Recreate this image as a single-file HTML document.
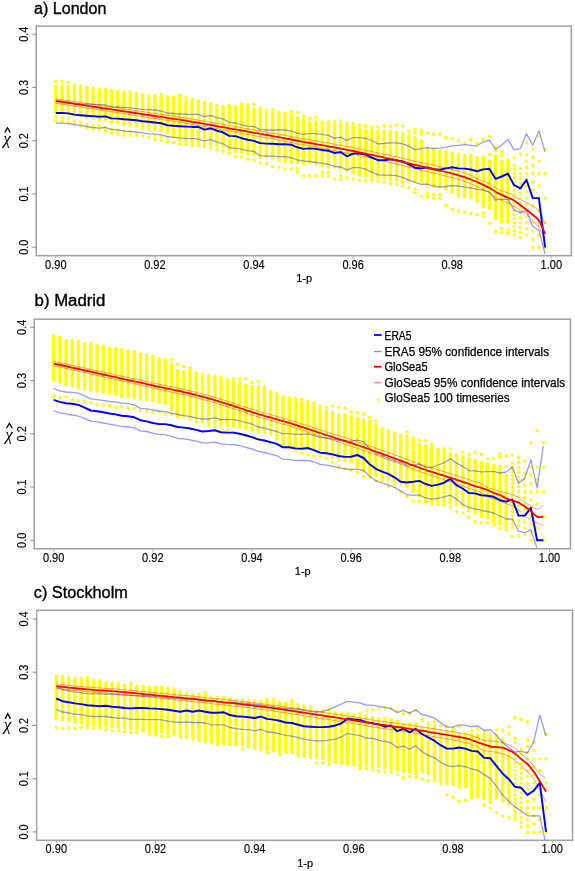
<!DOCTYPE html>
<html><head><meta charset="utf-8"><style>
html,body{margin:0;padding:0;background:#fff;}
svg{display:block;will-change:transform;}
text{font-family:"Liberation Sans",sans-serif;fill:#000;}
.tk{font-size:12px;stroke:#000;stroke-width:0.15px;}
.xl{font-size:11px;stroke:#000;stroke-width:0.2px;}
.ttl{font-size:16px;stroke:#000;stroke-width:0.35px;}
.lg{font-size:11.9px;stroke:#000;stroke-width:0.25px;}
.chi{font-size:17.3px;font-family:"Liberation Serif",serif;font-style:italic;}
</style></head><body>
<svg width="575" height="871" viewBox="0 0 575 871">
<rect width="575" height="871" fill="#fff"/>
<clipPath id="clipa"><rect x="36.2" y="26.1" width="535.1" height="229.6"/></clipPath>
<g fill="#ffff00" clip-path="url(#clipa)"><rect x="54.1" y="84.2" width="3.4" height="29.1" rx="1.7"/><rect x="60.3" y="84.2" width="3.4" height="30.3" rx="1.7"/><rect x="66.5" y="84.2" width="3.4" height="31.4" rx="1.7"/><rect x="72.7" y="83" width="3.4" height="33.7" rx="1.7"/><rect x="78.9" y="84.2" width="3.4" height="33.7" rx="1.7"/><rect x="85.1" y="85.3" width="3.4" height="33.7" rx="1.7"/><rect x="91.3" y="86.4" width="3.4" height="33.7" rx="1.7"/><rect x="97.5" y="87.6" width="3.4" height="33.7" rx="1.7"/><rect x="103.6" y="87.6" width="3.4" height="33.7" rx="1.7"/><rect x="109.8" y="88.7" width="3.4" height="34.8" rx="1.7"/><rect x="116" y="89.8" width="3.4" height="34.8" rx="1.7"/><rect x="122.2" y="90.3" width="3.4" height="35.5" rx="1.7"/><rect x="128.4" y="90.3" width="3.4" height="36.6" rx="1.7"/><rect x="134.6" y="91.6" width="3.4" height="36.4" rx="1.7"/><rect x="140.8" y="92.5" width="3.4" height="37.7" rx="1.7"/><rect x="147" y="94.3" width="3.4" height="37" rx="1.7"/><rect x="153.2" y="93.9" width="3.4" height="37.5" rx="1.7"/><rect x="159.4" y="95.5" width="3.4" height="37" rx="1.7"/><rect x="165.6" y="94.8" width="3.4" height="38.9" rx="1.7"/><rect x="171.8" y="95.3" width="3.4" height="43" rx="1.7"/><rect x="178" y="95.8" width="3.4" height="46.1" rx="1.7"/><rect x="184.2" y="99.2" width="3.4" height="43.8" rx="1.7"/><rect x="190.4" y="98" width="3.4" height="46.1" rx="1.7"/><rect x="196.6" y="99.2" width="3.4" height="45" rx="1.7"/><rect x="202.8" y="100.3" width="3.4" height="45" rx="1.7"/><rect x="208.9" y="102.1" width="3.4" height="44.3" rx="1.7"/><rect x="215.1" y="103.7" width="3.4" height="43.8" rx="1.7"/><rect x="221.3" y="104.8" width="3.4" height="43.8" rx="1.7"/><rect x="227.5" y="103.7" width="3.4" height="47.2" rx="1.7"/><rect x="233.7" y="104.8" width="3.4" height="48.3" rx="1.7"/><rect x="239.9" y="104.8" width="3.4" height="49.5" rx="1.7"/><rect x="246.1" y="106" width="3.4" height="49.5" rx="1.7"/><rect x="252.3" y="107.1" width="3.4" height="49.5" rx="1.7"/><rect x="258.5" y="106.6" width="3.4" height="52.2" rx="1.7"/><rect x="264.7" y="108.2" width="3.4" height="50.6" rx="1.7"/><rect x="270.9" y="110.5" width="3.4" height="49.5" rx="1.7"/><rect x="277.1" y="110.5" width="3.4" height="51.7" rx="1.7"/><rect x="283.3" y="111.6" width="3.4" height="51.7" rx="1.7"/><rect x="289.5" y="112.7" width="3.4" height="51" rx="1.7"/><rect x="295.7" y="116" width="3.4" height="48.2" rx="1.7"/><rect x="301.8" y="118" width="3.4" height="47.2" rx="1.7"/><rect x="308" y="120.3" width="3.4" height="43.8" rx="1.7"/><rect x="314.2" y="120.3" width="3.4" height="45" rx="1.7"/><rect x="320.4" y="120.3" width="3.4" height="47.2" rx="1.7"/><rect x="326.6" y="122.6" width="3.4" height="46.1" rx="1.7"/><rect x="332.8" y="122.6" width="3.4" height="46.1" rx="1.7"/><rect x="339" y="122.6" width="3.4" height="48.3" rx="1.7"/><rect x="345.2" y="124.8" width="3.4" height="47.2" rx="1.7"/><rect x="351.4" y="124.4" width="3.4" height="49.9" rx="1.7"/><rect x="357.6" y="126" width="3.4" height="50.6" rx="1.7"/><rect x="363.8" y="128.2" width="3.4" height="48.8" rx="1.7"/><rect x="370" y="128.2" width="3.4" height="50.6" rx="1.7"/><rect x="376.2" y="129.3" width="3.4" height="49.5" rx="1.7"/><rect x="382.4" y="129.3" width="3.4" height="50.6" rx="1.7"/><rect x="388.6" y="129.3" width="3.4" height="51.7" rx="1.7"/><rect x="394.8" y="130.5" width="3.4" height="51.7" rx="1.7"/><rect x="400.9" y="131.6" width="3.4" height="52.5" rx="1.7"/><rect x="407.1" y="133.9" width="3.4" height="49.1" rx="1.7"/><rect x="413.3" y="136.1" width="3.4" height="46.9" rx="1.7"/><rect x="419.5" y="138.5" width="3.4" height="46.2" rx="1.7"/><rect x="425.7" y="146.6" width="3.4" height="40.6" rx="1.7"/><rect x="431.9" y="146.6" width="3.4" height="41.7" rx="1.7"/><rect x="438.1" y="148.9" width="3.4" height="39.4" rx="1.7"/><rect x="444.3" y="150" width="3.4" height="40.6" rx="1.7"/><rect x="450.5" y="151.1" width="3.4" height="42.8" rx="1.7"/><rect x="456.7" y="152.3" width="3.4" height="45.1" rx="1.7"/><rect x="462.9" y="153.4" width="3.4" height="45.1" rx="1.7"/><rect x="469.1" y="153.4" width="3.4" height="46.2" rx="1.7"/><rect x="475.3" y="155.7" width="3.4" height="47.3" rx="1.7"/><rect x="481.5" y="155.1" width="3.4" height="53.4" rx="1.7"/><rect x="487.7" y="158.9" width="3.4" height="50.8" rx="1.7"/><rect x="493.9" y="154" width="3.4" height="66.2" rx="1.7"/><rect x="500" y="159.8" width="3.4" height="64.1" rx="1.7"/><rect x="506.2" y="158.3" width="3.4" height="65.6" rx="1.7"/><circle cx="55.8" cy="81.3" r="1.7"/><circle cx="55.8" cy="120.2" r="1.7"/><circle cx="55.8" cy="116.6" r="1.7"/><circle cx="62" cy="81.3" r="1.7"/><circle cx="62" cy="121.3" r="1.7"/><circle cx="62" cy="117.7" r="1.7"/><circle cx="68.2" cy="82.2" r="1.7"/><circle cx="68.2" cy="122.5" r="1.7"/><circle cx="68.2" cy="118.9" r="1.7"/><circle cx="74.4" cy="124.7" r="1.7"/><circle cx="74.4" cy="121.1" r="1.7"/><circle cx="80.6" cy="125.9" r="1.7"/><circle cx="80.6" cy="122.3" r="1.7"/><circle cx="86.8" cy="128.1" r="1.7"/><circle cx="86.8" cy="124.5" r="1.7"/><circle cx="93" cy="129.3" r="1.7"/><circle cx="93" cy="125.7" r="1.7"/><circle cx="99.2" cy="129.3" r="1.7"/><circle cx="99.2" cy="125.7" r="1.7"/><circle cx="105.3" cy="131.1" r="1.7"/><circle cx="105.3" cy="127.5" r="1.7"/><circle cx="111.5" cy="132.7" r="1.7"/><circle cx="111.5" cy="129.1" r="1.7"/><circle cx="117.7" cy="133.8" r="1.7"/><circle cx="117.7" cy="130.2" r="1.7"/><circle cx="123.9" cy="134.9" r="1.7"/><circle cx="123.9" cy="131.3" r="1.7"/><circle cx="130.1" cy="134.9" r="1.7"/><circle cx="130.1" cy="131.3" r="1.7"/><circle cx="136.3" cy="135.6" r="1.7"/><circle cx="136.3" cy="132" r="1.7"/><circle cx="142.5" cy="136" r="1.7"/><circle cx="148.7" cy="137.2" r="1.7"/><circle cx="154.9" cy="139.4" r="1.7"/><circle cx="154.9" cy="135.8" r="1.7"/><circle cx="161.1" cy="94.2" r="1.7"/><circle cx="161.1" cy="140.6" r="1.7"/><circle cx="161.1" cy="137" r="1.7"/><circle cx="167.3" cy="141.7" r="1.7"/><circle cx="167.3" cy="138.1" r="1.7"/><circle cx="173.5" cy="142.2" r="1.7"/><circle cx="179.7" cy="95" r="1.7"/><circle cx="179.7" cy="144.3" r="1.7"/><circle cx="185.9" cy="97.2" r="1.7"/><circle cx="185.9" cy="144.3" r="1.7"/><circle cx="192.1" cy="145.4" r="1.7"/><circle cx="198.3" cy="145.4" r="1.7"/><circle cx="204.4" cy="146.5" r="1.7"/><circle cx="210.6" cy="147.7" r="1.7"/><circle cx="216.8" cy="149.9" r="1.7"/><circle cx="223" cy="151" r="1.7"/><circle cx="229.2" cy="153.3" r="1.7"/><circle cx="235.4" cy="156.7" r="1.7"/><circle cx="241.6" cy="104" r="1.7"/><circle cx="241.6" cy="156.7" r="1.7"/><circle cx="247.8" cy="104.7" r="1.7"/><circle cx="247.8" cy="159" r="1.7"/><circle cx="254" cy="104" r="1.7"/><circle cx="254" cy="160.1" r="1.7"/><circle cx="260.2" cy="162.8" r="1.7"/><circle cx="266.4" cy="163.5" r="1.7"/><circle cx="272.6" cy="109.2" r="1.7"/><circle cx="272.6" cy="166.4" r="1.7"/><circle cx="278.8" cy="166.9" r="1.7"/><circle cx="285" cy="169.1" r="1.7"/><circle cx="291.2" cy="111.5" r="1.7"/><circle cx="291.2" cy="169.1" r="1.7"/><circle cx="297.4" cy="112.4" r="1.7"/><circle cx="297.4" cy="171.7" r="1.7"/><circle cx="297.4" cy="168.1" r="1.7"/><circle cx="303.5" cy="115.7" r="1.7"/><circle cx="303.5" cy="175.6" r="1.7"/><circle cx="309.7" cy="117.9" r="1.7"/><circle cx="309.7" cy="175.6" r="1.7"/><circle cx="315.9" cy="117.2" r="1.7"/><circle cx="315.9" cy="175.6" r="1.7"/><circle cx="322.1" cy="175.6" r="1.7"/><circle cx="322.1" cy="172" r="1.7"/><circle cx="328.3" cy="121.8" r="1.7"/><circle cx="328.3" cy="176" r="1.7"/><circle cx="328.3" cy="172.4" r="1.7"/><circle cx="334.5" cy="121.3" r="1.7"/><circle cx="334.5" cy="179" r="1.7"/><circle cx="340.7" cy="120.9" r="1.7"/><circle cx="340.7" cy="179" r="1.7"/><circle cx="340.7" cy="175.4" r="1.7"/><circle cx="346.9" cy="123.6" r="1.7"/><circle cx="346.9" cy="177.8" r="1.7"/><circle cx="353.1" cy="123.6" r="1.7"/><circle cx="353.1" cy="179" r="1.7"/><circle cx="359.3" cy="124.7" r="1.7"/><circle cx="359.3" cy="180.1" r="1.7"/><circle cx="365.5" cy="125.8" r="1.7"/><circle cx="365.5" cy="180.1" r="1.7"/><circle cx="371.7" cy="127" r="1.7"/><circle cx="371.7" cy="180.1" r="1.7"/><circle cx="377.9" cy="127" r="1.7"/><circle cx="377.9" cy="181.2" r="1.7"/><circle cx="384.1" cy="125.8" r="1.7"/><circle cx="384.1" cy="182.3" r="1.7"/><circle cx="390.3" cy="126.3" r="1.7"/><circle cx="390.3" cy="183.5" r="1.7"/><circle cx="396.5" cy="124.7" r="1.7"/><circle cx="396.5" cy="184.6" r="1.7"/><circle cx="402.6" cy="125.8" r="1.7"/><circle cx="402.6" cy="186" r="1.7"/><circle cx="408.8" cy="131.5" r="1.7"/><circle cx="408.8" cy="187.7" r="1.7"/><circle cx="415" cy="129.2" r="1.7"/><circle cx="415" cy="132.8" r="1.7"/><circle cx="415" cy="192.5" r="1.7"/><circle cx="415" cy="188.9" r="1.7"/><circle cx="421.2" cy="129.9" r="1.7"/><circle cx="421.2" cy="133.5" r="1.7"/><circle cx="421.2" cy="196.1" r="1.7"/><circle cx="427.4" cy="132.9" r="1.7"/><circle cx="427.4" cy="197" r="1.7"/><circle cx="427.4" cy="193.4" r="1.7"/><circle cx="433.6" cy="134" r="1.7"/><circle cx="433.6" cy="197.9" r="1.7"/><circle cx="433.6" cy="194.3" r="1.7"/><circle cx="439.8" cy="134" r="1.7"/><circle cx="439.8" cy="197.9" r="1.7"/><circle cx="439.8" cy="194.3" r="1.7"/><circle cx="446" cy="137.4" r="1.7"/><circle cx="446" cy="205.4" r="1.7"/><circle cx="452.2" cy="138.6" r="1.7"/><circle cx="452.2" cy="209.2" r="1.7"/><circle cx="458.4" cy="140.8" r="1.7"/><circle cx="458.4" cy="211" r="1.7"/><circle cx="464.6" cy="143.1" r="1.7"/><circle cx="464.6" cy="212.2" r="1.7"/><circle cx="470.8" cy="139.7" r="1.7"/><circle cx="470.8" cy="213.3" r="1.7"/><circle cx="477" cy="143.1" r="1.7"/><circle cx="477" cy="214.4" r="1.7"/><circle cx="483.2" cy="139.2" r="1.7"/><circle cx="483.2" cy="216.4" r="1.7"/><circle cx="483.2" cy="212.8" r="1.7"/><circle cx="489.4" cy="136.5" r="1.7"/><circle cx="489.4" cy="223.1" r="1.7"/><circle cx="489.4" cy="154.1" r="1.7"/><circle cx="495.6" cy="147.1" r="1.7"/><circle cx="495.6" cy="150.7" r="1.7"/><circle cx="495.6" cy="231.2" r="1.7"/><circle cx="501.7" cy="151.9" r="1.7"/><circle cx="501.7" cy="155.5" r="1.7"/><circle cx="501.7" cy="232.1" r="1.7"/><circle cx="501.7" cy="228.5" r="1.7"/><circle cx="507.9" cy="233.2" r="1.7"/><circle cx="507.9" cy="229.6" r="1.7"/><circle cx="514.1" cy="234.9" r="1.7"/><circle cx="514.1" cy="230.8" r="1.7"/><circle cx="514.1" cy="226.7" r="1.7"/><circle cx="514.1" cy="222.6" r="1.7"/><circle cx="514.1" cy="218.5" r="1.7"/><circle cx="514.1" cy="214.4" r="1.7"/><circle cx="514.1" cy="210.3" r="1.7"/><circle cx="514.1" cy="206.2" r="1.7"/><circle cx="514.1" cy="202.1" r="1.7"/><circle cx="514.1" cy="198" r="1.7"/><circle cx="514.1" cy="193.9" r="1.7"/><circle cx="514.1" cy="189.8" r="1.7"/><circle cx="514.1" cy="185.7" r="1.7"/><circle cx="514.1" cy="181.6" r="1.7"/><circle cx="514.1" cy="177.5" r="1.7"/><circle cx="514.1" cy="173.4" r="1.7"/><circle cx="514.1" cy="169.3" r="1.7"/><circle cx="514.1" cy="165.2" r="1.7"/><circle cx="514.1" cy="157" r="1.7"/><circle cx="520.3" cy="237.4" r="1.7"/><circle cx="520.3" cy="232.4" r="1.7"/><circle cx="520.3" cy="227.5" r="1.7"/><circle cx="520.3" cy="222.6" r="1.7"/><circle cx="520.3" cy="217.7" r="1.7"/><circle cx="520.3" cy="212.8" r="1.7"/><circle cx="520.3" cy="207.8" r="1.7"/><circle cx="520.3" cy="202.9" r="1.7"/><circle cx="520.3" cy="198" r="1.7"/><circle cx="520.3" cy="193.1" r="1.7"/><circle cx="520.3" cy="188.2" r="1.7"/><circle cx="520.3" cy="183.2" r="1.7"/><circle cx="520.3" cy="178.3" r="1.7"/><circle cx="520.3" cy="173.4" r="1.7"/><circle cx="520.3" cy="168.5" r="1.7"/><circle cx="520.3" cy="153.7" r="1.7"/><circle cx="526.5" cy="234.9" r="1.7"/><circle cx="526.5" cy="228.8" r="1.7"/><circle cx="526.5" cy="222.6" r="1.7"/><circle cx="526.5" cy="216.4" r="1.7"/><circle cx="526.5" cy="210.3" r="1.7"/><circle cx="526.5" cy="204.1" r="1.7"/><circle cx="526.5" cy="198" r="1.7"/><circle cx="526.5" cy="191.8" r="1.7"/><circle cx="526.5" cy="185.7" r="1.7"/><circle cx="526.5" cy="179.5" r="1.7"/><circle cx="526.5" cy="173.4" r="1.7"/><circle cx="526.5" cy="167.2" r="1.7"/><circle cx="526.5" cy="161.1" r="1.7"/><circle cx="526.5" cy="154.9" r="1.7"/><circle cx="526.5" cy="142.6" r="1.7"/><circle cx="532.7" cy="247.2" r="1.7"/><circle cx="532.7" cy="239" r="1.7"/><circle cx="532.7" cy="230.8" r="1.7"/><circle cx="532.7" cy="222.6" r="1.7"/><circle cx="532.7" cy="214.4" r="1.7"/><circle cx="532.7" cy="206.2" r="1.7"/><circle cx="532.7" cy="198" r="1.7"/><circle cx="532.7" cy="189.8" r="1.7"/><circle cx="532.7" cy="181.6" r="1.7"/><circle cx="532.7" cy="173.4" r="1.7"/><circle cx="532.7" cy="165.2" r="1.7"/><circle cx="532.7" cy="157" r="1.7"/><circle cx="532.7" cy="148.8" r="1.7"/><circle cx="538.9" cy="247.2" r="1.7"/><circle cx="538.9" cy="234.9" r="1.7"/><circle cx="538.9" cy="222.6" r="1.7"/><circle cx="538.9" cy="210.3" r="1.7"/><circle cx="538.9" cy="198" r="1.7"/><circle cx="538.9" cy="185.7" r="1.7"/><circle cx="538.9" cy="173.4" r="1.7"/><circle cx="538.9" cy="161.1" r="1.7"/><circle cx="538.9" cy="136.5" r="1.7"/><circle cx="545.1" cy="247.2" r="1.7"/><circle cx="545.1" cy="222.6" r="1.7"/><circle cx="545.1" cy="198" r="1.7"/><circle cx="545.1" cy="173.4" r="1.7"/><circle cx="545.1" cy="148.8" r="1.7"/></g>
<g fill="none" stroke-linejoin="round" clip-path="url(#clipa)"><polyline points="55.8,100.5 62,101.4 68.2,102.2 74.4,103.1 80.6,103.9 86.8,104.2 93,104.4 99.2,104.6 105.3,104.8 111.5,106.7 117.7,107 123.9,107.4 130.1,107.8 136.3,108.6 142.5,109.4 148.7,109.7 154.9,110 161.1,111.2 167.3,113 173.5,113.5 179.7,114 185.9,114.4 192.1,114.4 198.3,114.4 204.4,116.7 210.6,115.3 216.8,117.6 223,118.9 229.2,122.3 235.4,123 241.6,125 247.8,126.2 254,126.6 260.2,129.6 266.4,130 272.6,130 278.8,130 285,130 291.2,131.1 297.4,133.1 303.5,134.4 309.7,133.7 315.9,133.7 322.1,134.4 328.3,135.3 334.5,138.3 340.7,137.1 346.9,140.5 353.1,137.6 359.3,137.6 365.5,138.3 371.7,140.5 377.9,143.9 384.1,143.5 390.3,142.8 396.5,142.8 402.6,143.9 408.8,146.2 415,149.6 421.2,148.6 427.4,147.6 433.6,148.7 439.8,148.1 446,147.2 452.2,145.8 458.4,145.3 464.6,144.7 470.8,145.3 477,145.8 483.2,141.8 489.4,140.1 495.6,149.5 501.7,144.9 507.9,139.6 514.1,149.7 520.3,148.7 526.5,133.6 532.7,145.2 538.9,130.8 545.1,152.1" stroke="rgba(0,0,255,0.4)" stroke-width="1.3"/><polyline points="55.8,123.2 62,123.2 68.2,123.6 74.4,124.7 80.6,125.4 86.8,126.5 93,127.5 99.2,128.1 105.3,127.5 111.5,129.3 117.7,129.9 123.9,130.8 130.1,131.5 136.3,132.2 142.5,132.9 148.7,133.8 154.9,134.2 161.1,134.9 167.3,136.5 173.5,137.3 179.7,137.9 185.9,138.4 192.1,138.6 198.3,139.1 204.4,140.9 210.6,139.7 216.8,142 223,143.8 229.2,147.7 235.4,148.3 241.6,149.2 247.8,150.6 254,151.5 260.2,155.6 266.4,156 272.6,156.2 278.8,156.7 285,156.7 291.2,157.8 297.4,160 303.5,160.9 309.7,161.5 315.9,162.5 322.1,163.1 328.3,164.3 334.5,166.5 340.7,167 346.9,169.9 353.1,167.7 359.3,167.7 365.5,169.2 371.7,172.2 377.9,174.9 384.1,175.1 390.3,175.1 396.5,175.6 402.6,177.4 408.8,180.1 415,182.3 421.2,184.5 427.4,184.2 433.6,186 439.8,187.2 446,186.5 452.2,185.6 458.4,186 464.6,187.2 470.8,187.9 477,189.4 483.2,190.2 489.4,192.1 495.6,200 501.7,199.2 507.9,199.4 514.1,210.1 520.3,212.6 526.5,210.5 532.7,226.5 538.9,230.2 545.1,254.1" stroke="rgba(0,0,255,0.4)" stroke-width="1.3"/><path d="M55.8 98.8 C56.8 98.9 59.9 99.4 62 99.7 C64.1 100 66.1 100.3 68.2 100.6 C70.3 100.9 72.3 101.2 74.4 101.5 C76.4 101.8 78.5 102.1 80.6 102.4 C82.6 102.8 84.7 103.1 86.8 103.4 C88.8 103.7 90.9 104 93 104.3 C95 104.6 97.1 104.9 99.2 105.2 C101.2 105.5 103.3 105.8 105.3 106.1 C107.4 106.4 109.5 106.7 111.5 107 C113.6 107.3 115.7 107.6 117.7 107.9 C119.8 108.2 121.9 108.6 123.9 108.9 C126 109.2 128.1 109.5 130.1 109.8 C132.2 110.1 134.3 110.4 136.3 110.7 C138.4 111 140.4 111.3 142.5 111.6 C144.6 111.9 146.6 112.2 148.7 112.5 C150.8 112.8 152.8 113.1 154.9 113.4 C157 113.7 159 114 161.1 114.3 C163.2 114.6 165.2 114.9 167.3 115.2 C169.4 115.5 171.4 115.8 173.5 116.1 C175.5 116.5 177.6 116.8 179.7 117.1 C181.7 117.4 183.8 117.7 185.9 118.1 C187.9 118.4 190 118.7 192.1 119.1 C194.1 119.4 196.2 119.8 198.3 120.1 C200.3 120.5 202.4 120.8 204.4 121.2 C206.5 121.6 208.6 121.9 210.6 122.3 C212.7 122.6 214.8 123 216.8 123.4 C218.9 123.7 221 124.1 223 124.4 C225.1 124.8 227.2 125.2 229.2 125.5 C231.3 125.9 233.4 126.2 235.4 126.6 C237.5 127 239.5 127.3 241.6 127.7 C243.7 128 245.7 128.4 247.8 128.8 C249.9 129.1 251.9 129.5 254 129.9 C256.1 130.2 258.1 130.6 260.2 130.9 C262.3 131.3 264.3 131.7 266.4 132 C268.5 132.4 270.5 132.8 272.6 133.1 C274.6 133.5 276.7 133.9 278.8 134.2 C280.8 134.6 282.9 135 285 135.4 C287 135.7 289.1 136.1 291.2 136.5 C293.2 136.9 295.3 137.3 297.4 137.6 C299.4 138 301.5 138.4 303.5 138.8 C305.6 139.1 307.7 139.5 309.7 139.9 C311.8 140.2 313.9 140.6 315.9 140.9 C318 141.3 320.1 141.7 322.1 142 C324.2 142.4 326.3 142.7 328.3 143.1 C330.4 143.5 332.5 143.8 334.5 144.2 C336.6 144.6 338.6 145 340.7 145.4 C342.8 145.7 344.8 146.1 346.9 146.5 C349 146.9 351 147.3 353.1 147.7 C355.2 148.2 357.2 148.6 359.3 149 C361.4 149.4 363.4 149.8 365.5 150.2 C367.6 150.6 369.6 151.1 371.7 151.5 C373.7 151.9 375.8 152.3 377.9 152.8 C379.9 153.2 382 153.6 384.1 154.1 C386.1 154.5 388.2 155 390.3 155.5 C392.3 155.9 394.4 156.4 396.5 156.9 C398.5 157.3 400.6 157.8 402.6 158.3 C404.7 158.8 406.8 159.3 408.8 159.8 C410.9 160.3 413 160.8 415 161.2 C417.1 161.7 419.2 162.2 421.2 162.6 C423.3 163.1 425.4 163.5 427.4 164 C429.5 164.4 431.6 164.8 433.6 165.3 C435.7 165.7 437.7 166.1 439.8 166.6 C441.9 167 443.9 167.5 446 168 C448.1 168.5 450.1 169 452.2 169.5 C454.3 170 456.3 170.6 458.4 171.1 C460.5 171.7 462.5 172.2 464.6 172.9 C466.7 173.6 468.7 174.3 470.8 175.2 C472.8 176.1 474.9 177.5 477 178.4 C479 179.4 481.1 180.1 483.2 181 C485.2 181.8 487.3 182.4 489.4 183.5 C491.4 184.6 493.5 186.5 495.6 187.7 C497.6 188.9 499.7 189.8 501.7 190.7 C503.8 191.5 505.9 192 507.9 192.9 C510 193.8 512.1 194.8 514.1 195.9 C516.2 197 518.3 198.5 520.3 199.6 C522.4 200.7 524.5 201.5 526.5 202.6 C528.6 203.7 530.7 204.8 532.7 206.1 C534.8 207.4 536.8 207.4 538.9 210.4 C541 213.4 544.1 222 545.1 224.3" stroke="rgba(255,0,0,0.4)" stroke-width="1"/><path d="M55.8 103.2 C56.8 103.3 59.9 103.8 62 104.1 C64.1 104.5 66.1 104.8 68.2 105.1 C70.3 105.4 72.3 105.7 74.4 106.1 C76.4 106.4 78.5 106.7 80.6 107 C82.6 107.3 84.7 107.7 86.8 108 C88.8 108.3 90.9 108.6 93 108.9 C95 109.3 97.1 109.6 99.2 109.9 C101.2 110.2 103.3 110.5 105.3 110.9 C107.4 111.2 109.5 111.5 111.5 111.8 C113.6 112.1 115.7 112.5 117.7 112.8 C119.8 113.1 121.9 113.4 123.9 113.7 C126 114.1 128.1 114.4 130.1 114.7 C132.2 115 134.3 115.3 136.3 115.6 C138.4 116 140.4 116.3 142.5 116.6 C144.6 116.9 146.6 117.2 148.7 117.6 C150.8 117.9 152.8 118.2 154.9 118.5 C157 118.8 159 119.1 161.1 119.5 C163.2 119.8 165.2 120.1 167.3 120.4 C169.4 120.7 171.4 121 173.5 121.4 C175.5 121.7 177.6 122 179.7 122.3 C181.7 122.7 183.8 123 185.9 123.4 C187.9 123.7 190 124.1 192.1 124.4 C194.1 124.8 196.2 125.2 198.3 125.5 C200.3 125.9 202.4 126.3 204.4 126.6 C206.5 127 208.6 127.4 210.6 127.8 C212.7 128.1 214.8 128.5 216.8 128.9 C218.9 129.3 221 129.6 223 130 C225.1 130.4 227.2 130.8 229.2 131.1 C231.3 131.5 233.4 131.9 235.4 132.3 C237.5 132.6 239.5 133 241.6 133.4 C243.7 133.8 245.7 134.1 247.8 134.5 C249.9 134.9 251.9 135.3 254 135.6 C256.1 136 258.1 136.4 260.2 136.8 C262.3 137.2 264.3 137.5 266.4 137.9 C268.5 138.3 270.5 138.7 272.6 139 C274.6 139.4 276.7 139.8 278.8 140.2 C280.8 140.6 282.9 141 285 141.4 C287 141.8 289.1 142.2 291.2 142.6 C293.2 143 295.3 143.4 297.4 143.8 C299.4 144.2 301.5 144.5 303.5 144.9 C305.6 145.3 307.7 145.7 309.7 146.1 C311.8 146.5 313.9 146.8 315.9 147.2 C318 147.6 320.1 147.9 322.1 148.3 C324.2 148.7 326.3 149.1 328.3 149.5 C330.4 149.8 332.5 150.2 334.5 150.6 C336.6 151 338.6 151.4 340.7 151.8 C342.8 152.2 344.8 152.7 346.9 153.1 C349 153.5 351 153.9 353.1 154.3 C355.2 154.8 357.2 155.2 359.3 155.6 C361.4 156.1 363.4 156.5 365.5 156.9 C367.6 157.4 369.6 157.8 371.7 158.3 C373.7 158.7 375.8 159.2 377.9 159.6 C379.9 160.1 382 160.6 384.1 161 C386.1 161.5 388.2 162 390.3 162.5 C392.3 163 394.4 163.5 396.5 164 C398.5 164.5 400.6 165 402.6 165.5 C404.7 166 406.8 166.6 408.8 167.1 C410.9 167.6 413 168.2 415 168.7 C417.1 169.2 419.2 169.7 421.2 170.2 C423.3 170.7 425.4 171.2 427.4 171.6 C429.5 172.1 431.6 172.6 433.6 173 C435.7 173.5 437.7 174 439.8 174.5 C441.9 174.9 443.9 175.4 446 176 C448.1 176.5 450.1 177 452.2 177.6 C454.3 178.2 456.3 178.8 458.4 179.4 C460.5 180 462.5 180.6 464.6 181.4 C466.7 182.1 468.7 183 470.8 183.8 C472.8 184.7 474.9 185.6 477 186.5 C479 187.4 481.1 188.5 483.2 189.5 C485.2 190.5 487.3 191.1 489.4 192.5 C491.4 193.8 493.5 196.1 495.6 197.4 C497.6 198.7 499.7 199.5 501.7 200.4 C503.8 201.3 505.9 201.9 507.9 202.9 C510 203.9 512.1 205 514.1 206.3 C516.2 207.7 518.3 209.6 520.3 210.8 C522.4 212.1 524.5 212.2 526.5 213.9 C528.6 215.6 530.7 218.7 532.7 220.9 C534.8 223.1 536.8 223.8 538.9 227 C541 230.2 544.1 237.8 545.1 240" stroke="rgba(255,0,0,0.4)" stroke-width="1"/><polyline points="55.8,113 62,113 68.2,113.4 74.4,114.6 80.6,115.2 86.8,115.7 93,116.1 99.2,116.8 105.3,116.4 111.5,118.4 117.7,118.6 123.9,119.3 130.1,119.8 136.3,120.2 142.5,121.3 148.7,121.8 154.9,122.5 161.1,123.2 167.3,125.2 173.5,125.8 179.7,126.2 185.9,126.6 192.1,126.9 198.3,126.9 204.4,129.6 210.6,128.4 216.8,130.7 223,132.3 229.2,135.9 235.4,136.1 241.6,138.2 247.8,139.7 254,140.9 260.2,143.1 266.4,143.6 272.6,143.8 278.8,144.3 285,144.3 291.2,144.7 297.4,147.3 303.5,148.9 309.7,148.4 315.9,148.9 322.1,150 328.3,150.7 334.5,153 340.7,152.1 346.9,156.3 353.1,153.6 359.3,153.6 365.5,154.5 371.7,157.5 377.9,160.2 384.1,160.2 390.3,159.3 396.5,160.2 402.6,161.5 408.8,164.3 415,167.7 421.2,168.4 427.4,167.5 433.6,169.3 439.8,169.8 446,168.4 452.2,167.3 458.4,168.4 464.6,168.6 470.8,169.5 477,171.3 483.2,169.4 489.4,168.8 495.6,178.9 501.7,176.5 507.9,173.6 514.1,185.2 520.3,188.4 526.5,179.8 532.7,198 538.9,198.1 545.1,247.4" stroke="#0000ff" stroke-width="1.95"/><path d="M55.8 101 C56.8 101.1 59.9 101.6 62 101.9 C64.1 102.2 66.1 102.5 68.2 102.9 C70.3 103.2 72.3 103.5 74.4 103.8 C76.4 104.1 78.5 104.4 80.6 104.7 C82.6 105 84.7 105.4 86.8 105.7 C88.8 106 90.9 106.3 93 106.6 C95 106.9 97.1 107.2 99.2 107.5 C101.2 107.9 103.3 108.2 105.3 108.5 C107.4 108.8 109.5 109.1 111.5 109.4 C113.6 109.7 115.7 110 117.7 110.4 C119.8 110.7 121.9 111 123.9 111.3 C126 111.6 128.1 111.9 130.1 112.2 C132.2 112.5 134.3 112.9 136.3 113.2 C138.4 113.5 140.4 113.8 142.5 114.1 C144.6 114.4 146.6 114.7 148.7 115 C150.8 115.3 152.8 115.7 154.9 116 C157 116.3 159 116.6 161.1 116.9 C163.2 117.2 165.2 117.5 167.3 117.8 C169.4 118.1 171.4 118.4 173.5 118.8 C175.5 119.1 177.6 119.4 179.7 119.7 C181.7 120 183.8 120.4 185.9 120.7 C187.9 121.1 190 121.4 192.1 121.8 C194.1 122.1 196.2 122.5 198.3 122.8 C200.3 123.2 202.4 123.5 204.4 123.9 C206.5 124.3 208.6 124.6 210.6 125 C212.7 125.4 214.8 125.7 216.8 126.1 C218.9 126.5 221 126.9 223 127.2 C225.1 127.6 227.2 128 229.2 128.3 C231.3 128.7 233.4 129.1 235.4 129.4 C237.5 129.8 239.5 130.2 241.6 130.5 C243.7 130.9 245.7 131.3 247.8 131.6 C249.9 132 251.9 132.4 254 132.8 C256.1 133.1 258.1 133.5 260.2 133.9 C262.3 134.2 264.3 134.6 266.4 135 C268.5 135.3 270.5 135.7 272.6 136.1 C274.6 136.5 276.7 136.8 278.8 137.2 C280.8 137.6 282.9 138 285 138.4 C287 138.8 289.1 139.1 291.2 139.5 C293.2 139.9 295.3 140.3 297.4 140.7 C299.4 141.1 301.5 141.5 303.5 141.9 C305.6 142.2 307.7 142.6 309.7 143 C311.8 143.3 313.9 143.7 315.9 144.1 C318 144.4 320.1 144.8 322.1 145.2 C324.2 145.5 326.3 145.9 328.3 146.3 C330.4 146.6 332.5 147 334.5 147.4 C336.6 147.8 338.6 148.2 340.7 148.6 C342.8 149 344.8 149.4 346.9 149.8 C349 150.2 351 150.6 353.1 151 C355.2 151.5 357.2 151.9 359.3 152.3 C361.4 152.7 363.4 153.2 365.5 153.6 C367.6 154 369.6 154.4 371.7 154.9 C373.7 155.3 375.8 155.8 377.9 156.2 C379.9 156.7 382 157.1 384.1 157.6 C386.1 158 388.2 158.5 390.3 159 C392.3 159.4 394.4 159.9 396.5 160.4 C398.5 160.9 400.6 161.4 402.6 161.9 C404.7 162.4 406.8 162.9 408.8 163.4 C410.9 164 413 164.5 415 165 C417.1 165.4 419.2 165.9 421.2 166.4 C423.3 166.9 425.4 167.4 427.4 167.8 C429.5 168.3 431.6 168.7 433.6 169.2 C435.7 169.6 437.7 170.1 439.8 170.5 C441.9 171 443.9 171.5 446 172 C448.1 172.5 450.1 173 452.2 173.6 C454.3 174.1 456.3 174.7 458.4 175.3 C460.5 175.9 462.5 176.4 464.6 177.1 C466.7 177.9 468.7 178.7 470.8 179.5 C472.8 180.3 474.9 180.9 477 181.8 C479 182.7 481.1 183.9 483.2 184.9 C485.2 185.9 487.3 186.7 489.4 187.8 C491.4 188.9 493.5 190.6 495.6 191.7 C497.6 192.9 499.7 193.9 501.7 194.9 C503.8 195.9 505.9 196.8 507.9 197.7 C510 198.6 512.1 199.2 514.1 200.4 C516.2 201.6 518.3 203.4 520.3 205 C522.4 206.6 524.5 208.1 526.5 209.7 C528.6 211.3 530.7 213 532.7 214.8 C534.8 216.6 536.8 217.3 538.9 220.5 C541 223.7 544.1 231.7 545.1 233.9" stroke="#ff0000" stroke-width="1.8"/></g>
<rect x="36.2" y="26.1" width="535.1" height="229.6" fill="none" stroke="#a0a0a0" stroke-width="1.5"/>
<line x1="32.2" y1="247.2" x2="36.2" y2="247.2" stroke="#8c8c8c" stroke-width="1"/>
<text transform="translate(28,247.2) rotate(-90)" text-anchor="middle" class="tk" textLength="15.2" lengthAdjust="spacingAndGlyphs">0.0</text>
<line x1="32.2" y1="193.9" x2="36.2" y2="193.9" stroke="#8c8c8c" stroke-width="1"/>
<text transform="translate(28,193.9) rotate(-90)" text-anchor="middle" class="tk" textLength="15.2" lengthAdjust="spacingAndGlyphs">0.1</text>
<line x1="32.2" y1="140.7" x2="36.2" y2="140.7" stroke="#8c8c8c" stroke-width="1"/>
<text transform="translate(28,140.7) rotate(-90)" text-anchor="middle" class="tk" textLength="15.2" lengthAdjust="spacingAndGlyphs">0.2</text>
<line x1="32.2" y1="87.4" x2="36.2" y2="87.4" stroke="#8c8c8c" stroke-width="1"/>
<text transform="translate(28,87.4) rotate(-90)" text-anchor="middle" class="tk" textLength="15.2" lengthAdjust="spacingAndGlyphs">0.3</text>
<line x1="32.2" y1="34.2" x2="36.2" y2="34.2" stroke="#8c8c8c" stroke-width="1"/>
<text transform="translate(28,34.2) rotate(-90)" text-anchor="middle" class="tk" textLength="15.2" lengthAdjust="spacingAndGlyphs">0.4</text>
<line x1="55.8" y1="255.7" x2="55.8" y2="258.7" stroke="#b0b0b0" stroke-width="1"/>
<text x="55.8" y="268.6" text-anchor="middle" class="tk" textLength="21.4" lengthAdjust="spacingAndGlyphs">0.90</text>
<line x1="154.9" y1="255.7" x2="154.9" y2="258.7" stroke="#b0b0b0" stroke-width="1"/>
<text x="154.9" y="268.6" text-anchor="middle" class="tk" textLength="21.4" lengthAdjust="spacingAndGlyphs">0.92</text>
<line x1="254" y1="255.7" x2="254" y2="258.7" stroke="#b0b0b0" stroke-width="1"/>
<text x="254" y="268.6" text-anchor="middle" class="tk" textLength="21.4" lengthAdjust="spacingAndGlyphs">0.94</text>
<line x1="353.1" y1="255.7" x2="353.1" y2="258.7" stroke="#b0b0b0" stroke-width="1"/>
<text x="353.1" y="268.6" text-anchor="middle" class="tk" textLength="21.4" lengthAdjust="spacingAndGlyphs">0.96</text>
<line x1="452.2" y1="255.7" x2="452.2" y2="258.7" stroke="#b0b0b0" stroke-width="1"/>
<text x="452.2" y="268.6" text-anchor="middle" class="tk" textLength="21.4" lengthAdjust="spacingAndGlyphs">0.98</text>
<line x1="551.3" y1="255.7" x2="551.3" y2="258.7" stroke="#b0b0b0" stroke-width="1"/>
<text x="551.3" y="268.6" text-anchor="middle" class="tk" textLength="21.4" lengthAdjust="spacingAndGlyphs">1.00</text>
<text x="304.2" y="282" text-anchor="middle" class="xl">1-p</text>
<text x="3.3" y="144.3" class="chi">&#967;</text>
<path d="M4.8 132.6 L7.5 127.7 L10.2 132.6" fill="none" stroke="#000" stroke-width="1.25"/>
<text x="34.1" y="13.9" class="ttl" textLength="72.2" lengthAdjust="spacingAndGlyphs">a) London</text>
<clipPath id="clipb"><rect x="34.2" y="319.2" width="536.2" height="229.6"/></clipPath>
<g fill="#ffff00" clip-path="url(#clipb)"><rect x="51.9" y="334.2" width="3.4" height="47.2" rx="1.7"/><rect x="58.1" y="335.3" width="3.4" height="48.3" rx="1.7"/><rect x="64.3" y="338.7" width="3.4" height="47.2" rx="1.7"/><rect x="70.5" y="338.7" width="3.4" height="48.3" rx="1.7"/><rect x="76.7" y="339.8" width="3.4" height="49.5" rx="1.7"/><rect x="82.9" y="342.1" width="3.4" height="48.3" rx="1.7"/><rect x="89.1" y="342.1" width="3.4" height="49.5" rx="1.7"/><rect x="95.3" y="343.2" width="3.4" height="49.5" rx="1.7"/><rect x="101.5" y="344.3" width="3.4" height="49.5" rx="1.7"/><rect x="107.7" y="346.6" width="3.4" height="48.3" rx="1.7"/><rect x="113.9" y="346.6" width="3.4" height="49.5" rx="1.7"/><rect x="120.1" y="347.7" width="3.4" height="50.6" rx="1.7"/><rect x="126.3" y="348.9" width="3.4" height="49.5" rx="1.7"/><rect x="132.5" y="350" width="3.4" height="49.5" rx="1.7"/><rect x="138.7" y="352.3" width="3.4" height="48.3" rx="1.7"/><rect x="144.9" y="353.4" width="3.4" height="48.3" rx="1.7"/><rect x="151.1" y="354.5" width="3.4" height="48.3" rx="1.7"/><rect x="157.3" y="356.8" width="3.4" height="47.2" rx="1.7"/><rect x="163.5" y="357.9" width="3.4" height="47.2" rx="1.7"/><rect x="169.7" y="362.3" width="3.4" height="48.3" rx="1.7"/><rect x="175.9" y="368.9" width="3.4" height="49.5" rx="1.7"/><rect x="182.1" y="370" width="3.4" height="48.3" rx="1.7"/><rect x="188.3" y="368.9" width="3.4" height="51.7" rx="1.7"/><rect x="194.5" y="371.1" width="3.4" height="49.5" rx="1.7"/><rect x="200.7" y="372.3" width="3.4" height="50.6" rx="1.7"/><rect x="206.9" y="373.4" width="3.4" height="50.6" rx="1.7"/><rect x="213.1" y="374.5" width="3.4" height="50.6" rx="1.7"/><rect x="219.3" y="377.9" width="3.4" height="48.3" rx="1.7"/><rect x="225.5" y="377.9" width="3.4" height="49.2" rx="1.7"/><rect x="231.7" y="380.2" width="3.4" height="47.2" rx="1.7"/><rect x="237.9" y="380.2" width="3.4" height="48.6" rx="1.7"/><rect x="244.1" y="383.6" width="3.4" height="46.9" rx="1.7"/><rect x="250.3" y="384.7" width="3.4" height="47.5" rx="1.7"/><rect x="256.5" y="384.7" width="3.4" height="48.6" rx="1.7"/><rect x="262.7" y="384.7" width="3.4" height="49.8" rx="1.7"/><rect x="268.9" y="389.2" width="3.4" height="46.4" rx="1.7"/><rect x="275.1" y="391.5" width="3.4" height="48.9" rx="1.7"/><rect x="281.3" y="394.9" width="3.4" height="51.2" rx="1.7"/><rect x="287.5" y="396" width="3.4" height="51.2" rx="1.7"/><rect x="293.7" y="399.4" width="3.4" height="48.7" rx="1.7"/><rect x="299.9" y="400.5" width="3.4" height="47.3" rx="1.7"/><rect x="306" y="402.7" width="3.4" height="45" rx="1.7"/><rect x="312.2" y="403.9" width="3.4" height="45" rx="1.7"/><rect x="318.4" y="407.3" width="3.4" height="43.9" rx="1.7"/><rect x="324.6" y="408.4" width="3.4" height="45" rx="1.7"/><rect x="330.8" y="410.7" width="3.4" height="48.4" rx="1.7"/><rect x="337" y="412.9" width="3.4" height="48.4" rx="1.7"/><rect x="343.2" y="412.9" width="3.4" height="49.6" rx="1.7"/><rect x="349.4" y="415.2" width="3.4" height="48.4" rx="1.7"/><rect x="355.6" y="416.3" width="3.4" height="51.8" rx="1.7"/><rect x="361.8" y="418.6" width="3.4" height="54.1" rx="1.7"/><rect x="368" y="419.7" width="3.4" height="55.2" rx="1.7"/><rect x="374.2" y="423.1" width="3.4" height="54.1" rx="1.7"/><rect x="380.4" y="426.5" width="3.4" height="53" rx="1.7"/><rect x="386.6" y="428.7" width="3.4" height="53" rx="1.7"/><rect x="392.8" y="431" width="3.4" height="53" rx="1.7"/><rect x="399" y="433.3" width="3.4" height="51.8" rx="1.7"/><rect x="405.2" y="434.4" width="3.4" height="54.1" rx="1.7"/><rect x="411.4" y="438.9" width="3.4" height="54.1" rx="1.7"/><rect x="417.6" y="442.3" width="3.4" height="55.9" rx="1.7"/><rect x="423.8" y="444.1" width="3.4" height="59.4" rx="1.7"/><rect x="430" y="445.9" width="3.4" height="56.5" rx="1.7"/><rect x="436.2" y="447.7" width="3.4" height="55.8" rx="1.7"/><rect x="442.4" y="449.5" width="3.4" height="54" rx="1.7"/><rect x="448.6" y="451.3" width="3.4" height="53.4" rx="1.7"/><rect x="454.8" y="453" width="3.4" height="53.8" rx="1.7"/><rect x="461" y="454.8" width="3.4" height="53.2" rx="1.7"/><rect x="467.2" y="456.6" width="3.4" height="55.9" rx="1.7"/><rect x="473.4" y="458.4" width="3.4" height="56.4" rx="1.7"/><rect x="479.6" y="460.2" width="3.4" height="58" rx="1.7"/><rect x="485.8" y="462" width="3.4" height="57.3" rx="1.7"/><rect x="492" y="463.8" width="3.4" height="59.7" rx="1.7"/><rect x="498.2" y="464.5" width="3.4" height="60.9" rx="1.7"/><rect x="504.4" y="472.7" width="3.4" height="55.5" rx="1.7"/><circle cx="53.6" cy="395.8" r="1.7"/><circle cx="59.8" cy="397.4" r="1.7"/><circle cx="66" cy="396.5" r="1.7"/><circle cx="72.2" cy="399.9" r="1.7"/><circle cx="78.4" cy="400.8" r="1.7"/><circle cx="84.6" cy="401.5" r="1.7"/><circle cx="90.8" cy="402.6" r="1.7"/><circle cx="97" cy="404.2" r="1.7"/><circle cx="103.2" cy="404.9" r="1.7"/><circle cx="109.4" cy="405.5" r="1.7"/><circle cx="115.6" cy="407.1" r="1.7"/><circle cx="121.8" cy="407.1" r="1.7"/><circle cx="128" cy="407.6" r="1.7"/><circle cx="134.2" cy="408.3" r="1.7"/><circle cx="140.4" cy="410.5" r="1.7"/><circle cx="146.6" cy="411" r="1.7"/><circle cx="152.8" cy="411.7" r="1.7"/><circle cx="159" cy="412.1" r="1.7"/><circle cx="165.2" cy="413.9" r="1.7"/><circle cx="171.4" cy="359.3" r="1.7"/><circle cx="171.4" cy="414.4" r="1.7"/><circle cx="177.6" cy="364.2" r="1.7"/><circle cx="183.8" cy="366.5" r="1.7"/><circle cx="190" cy="367.6" r="1.7"/><circle cx="196.2" cy="421.5" r="1.7"/><circle cx="208.6" cy="425.1" r="1.7"/><circle cx="214.8" cy="426.9" r="1.7"/><circle cx="221" cy="377.1" r="1.7"/><circle cx="221" cy="428.7" r="1.7"/><circle cx="227.2" cy="430.5" r="1.7"/><circle cx="233.4" cy="378.9" r="1.7"/><circle cx="233.4" cy="432.3" r="1.7"/><circle cx="239.6" cy="378.9" r="1.7"/><circle cx="239.6" cy="434.1" r="1.7"/><circle cx="245.8" cy="378.5" r="1.7"/><circle cx="245.8" cy="435.9" r="1.7"/><circle cx="252" cy="382.3" r="1.7"/><circle cx="252" cy="437.6" r="1.7"/><circle cx="258.2" cy="381.2" r="1.7"/><circle cx="258.2" cy="439.4" r="1.7"/><circle cx="264.4" cy="441.2" r="1.7"/><circle cx="270.6" cy="443" r="1.7"/><circle cx="276.8" cy="444.8" r="1.7"/><circle cx="283" cy="446.6" r="1.7"/><circle cx="289.2" cy="448.4" r="1.7"/><circle cx="295.4" cy="398.1" r="1.7"/><circle cx="295.4" cy="450.2" r="1.7"/><circle cx="301.6" cy="399.2" r="1.7"/><circle cx="301.6" cy="453.1" r="1.7"/><circle cx="307.7" cy="401.5" r="1.7"/><circle cx="307.7" cy="454" r="1.7"/><circle cx="313.9" cy="402.6" r="1.7"/><circle cx="313.9" cy="455.8" r="1.7"/><circle cx="320.1" cy="406" r="1.7"/><circle cx="320.1" cy="456.3" r="1.7"/><circle cx="326.3" cy="407.1" r="1.7"/><circle cx="326.3" cy="458.1" r="1.7"/><circle cx="332.5" cy="406" r="1.7"/><circle cx="332.5" cy="462.6" r="1.7"/><circle cx="338.7" cy="407.1" r="1.7"/><circle cx="338.7" cy="466.7" r="1.7"/><circle cx="344.9" cy="408.3" r="1.7"/><circle cx="344.9" cy="468.3" r="1.7"/><circle cx="351.1" cy="411.7" r="1.7"/><circle cx="351.1" cy="469.4" r="1.7"/><circle cx="357.3" cy="412.8" r="1.7"/><circle cx="357.3" cy="471.7" r="1.7"/><circle cx="363.5" cy="413.9" r="1.7"/><circle cx="363.5" cy="476.2" r="1.7"/><circle cx="369.7" cy="417.3" r="1.7"/><circle cx="369.7" cy="477.3" r="1.7"/><circle cx="375.9" cy="420.7" r="1.7"/><circle cx="375.9" cy="480.7" r="1.7"/><circle cx="382.1" cy="480.7" r="1.7"/><circle cx="388.3" cy="486.3" r="1.7"/><circle cx="394.5" cy="486.3" r="1.7"/><circle cx="400.7" cy="492" r="1.7"/><circle cx="406.9" cy="432" r="1.7"/><circle cx="406.9" cy="496.5" r="1.7"/><circle cx="413.1" cy="437.7" r="1.7"/><circle cx="413.1" cy="501" r="1.7"/><circle cx="419.3" cy="440.3" r="1.7"/><circle cx="419.3" cy="501.5" r="1.7"/><circle cx="425.5" cy="440.7" r="1.7"/><circle cx="431.7" cy="444.1" r="1.7"/><circle cx="431.7" cy="503.6" r="1.7"/><circle cx="437.9" cy="504.7" r="1.7"/><circle cx="444.1" cy="448.6" r="1.7"/><circle cx="444.1" cy="504.7" r="1.7"/><circle cx="450.3" cy="448.6" r="1.7"/><circle cx="450.3" cy="507" r="1.7"/><circle cx="456.5" cy="511.5" r="1.7"/><circle cx="462.7" cy="452" r="1.7"/><circle cx="462.7" cy="512.7" r="1.7"/><circle cx="468.9" cy="454.3" r="1.7"/><circle cx="468.9" cy="517.2" r="1.7"/><circle cx="475.1" cy="452.5" r="1.7"/><circle cx="475.1" cy="521.7" r="1.7"/><circle cx="481.3" cy="454.3" r="1.7"/><circle cx="481.3" cy="522.8" r="1.7"/><circle cx="487.5" cy="458.8" r="1.7"/><circle cx="487.5" cy="522.8" r="1.7"/><circle cx="493.7" cy="458.1" r="1.7"/><circle cx="493.7" cy="525.1" r="1.7"/><circle cx="499.9" cy="454" r="1.7"/><circle cx="499.9" cy="528.5" r="1.7"/><circle cx="499.9" cy="457.3" r="1.7"/><circle cx="506.1" cy="455.8" r="1.7"/><circle cx="506.1" cy="529.6" r="1.7"/><circle cx="506.1" cy="466.3" r="1.7"/><circle cx="512.3" cy="536.2" r="1.7"/><circle cx="512.3" cy="528.1" r="1.7"/><circle cx="512.3" cy="524" r="1.7"/><circle cx="512.3" cy="520" r="1.7"/><circle cx="512.3" cy="515.9" r="1.7"/><circle cx="512.3" cy="511.8" r="1.7"/><circle cx="512.3" cy="507.8" r="1.7"/><circle cx="512.3" cy="503.7" r="1.7"/><circle cx="512.3" cy="499.6" r="1.7"/><circle cx="512.3" cy="495.6" r="1.7"/><circle cx="512.3" cy="491.5" r="1.7"/><circle cx="512.3" cy="487.4" r="1.7"/><circle cx="512.3" cy="483.4" r="1.7"/><circle cx="512.3" cy="479.3" r="1.7"/><circle cx="512.3" cy="475.2" r="1.7"/><circle cx="512.3" cy="471.2" r="1.7"/><circle cx="512.3" cy="467.1" r="1.7"/><circle cx="512.3" cy="463" r="1.7"/><circle cx="512.3" cy="454.9" r="1.7"/><circle cx="518.5" cy="535.4" r="1.7"/><circle cx="518.5" cy="525.7" r="1.7"/><circle cx="518.5" cy="520.8" r="1.7"/><circle cx="518.5" cy="515.9" r="1.7"/><circle cx="518.5" cy="511" r="1.7"/><circle cx="518.5" cy="506.1" r="1.7"/><circle cx="518.5" cy="501.3" r="1.7"/><circle cx="518.5" cy="496.4" r="1.7"/><circle cx="518.5" cy="491.5" r="1.7"/><circle cx="518.5" cy="486.6" r="1.7"/><circle cx="518.5" cy="481.7" r="1.7"/><circle cx="518.5" cy="476.9" r="1.7"/><circle cx="518.5" cy="472" r="1.7"/><circle cx="518.5" cy="467.1" r="1.7"/><circle cx="518.5" cy="462.2" r="1.7"/><circle cx="518.5" cy="457.3" r="1.7"/><circle cx="524.7" cy="534.2" r="1.7"/><circle cx="524.7" cy="528.1" r="1.7"/><circle cx="524.7" cy="522" r="1.7"/><circle cx="524.7" cy="515.9" r="1.7"/><circle cx="524.7" cy="509.8" r="1.7"/><circle cx="524.7" cy="503.7" r="1.7"/><circle cx="524.7" cy="497.6" r="1.7"/><circle cx="524.7" cy="491.5" r="1.7"/><circle cx="524.7" cy="485.4" r="1.7"/><circle cx="524.7" cy="479.3" r="1.7"/><circle cx="524.7" cy="473.2" r="1.7"/><circle cx="524.7" cy="461" r="1.7"/><circle cx="530.9" cy="540.3" r="1.7"/><circle cx="530.9" cy="532.2" r="1.7"/><circle cx="530.9" cy="524" r="1.7"/><circle cx="530.9" cy="515.9" r="1.7"/><circle cx="530.9" cy="507.8" r="1.7"/><circle cx="530.9" cy="499.6" r="1.7"/><circle cx="530.9" cy="491.5" r="1.7"/><circle cx="530.9" cy="483.4" r="1.7"/><circle cx="530.9" cy="475.2" r="1.7"/><circle cx="530.9" cy="467.1" r="1.7"/><circle cx="530.9" cy="442.7" r="1.7"/><circle cx="537.1" cy="540.3" r="1.7"/><circle cx="537.1" cy="528.1" r="1.7"/><circle cx="537.1" cy="515.9" r="1.7"/><circle cx="537.1" cy="503.7" r="1.7"/><circle cx="537.1" cy="491.5" r="1.7"/><circle cx="537.1" cy="479.3" r="1.7"/><circle cx="537.1" cy="467.1" r="1.7"/><circle cx="537.1" cy="430.5" r="1.7"/><circle cx="543.3" cy="540.3" r="1.7"/><circle cx="543.3" cy="515.9" r="1.7"/><circle cx="543.3" cy="491.5" r="1.7"/><circle cx="543.3" cy="467.1" r="1.7"/><circle cx="543.3" cy="442.7" r="1.7"/></g>
<g fill="none" stroke-linejoin="round" clip-path="url(#clipb)"><polyline points="53.6,388.6 59.8,390.9 66,392 72.2,392.4 78.4,393.1 84.6,395.8 90.8,398.8 97,399.7 103.2,400.3 109.4,401.5 115.6,401.9 121.8,403.1 128,403.7 134.2,404.9 140.4,408.3 146.6,408.9 152.8,409.8 159,411 165.2,411.7 171.4,413.1 177.6,414.5 183.8,415.7 190,416.3 196.2,417.9 202.4,419 208.6,419 214.8,417.9 221,419.5 227.2,419.5 233.4,419.7 239.6,420.9 245.8,422.4 252,424 258.2,427 264.4,428.1 270.6,429.9 276.8,431.5 283,433.7 289.2,433.7 295.4,434.4 301.6,434.3 307.7,433.9 313.9,435.7 320.1,437.3 326.3,438 332.5,439.1 338.7,440.3 344.9,441.1 351.1,441.2 357.3,440.1 363.5,441.7 369.7,449 375.9,453.6 382.1,455.8 388.3,458.1 394.5,460.3 400.7,462.6 406.9,465.3 413.1,465.3 419.3,464.1 425.5,467.1 431.7,467.5 437.9,465 444.1,462.8 450.3,458.8 456.5,463.1 462.7,466.3 468.9,470.8 475.1,470.8 481.3,471.8 487.5,471.6 493.7,471.3 499.9,473 506.1,472 512.3,467.1 518.5,483.3 524.7,478.2 530.9,459.8 537.1,487.8 543.3,446.2" stroke="rgba(0,0,255,0.4)" stroke-width="1.3"/><polyline points="53.6,410.5 59.8,412.8 66,413.9 72.2,415 78.4,416.2 84.6,418.4 90.8,421.1 97,421.8 103.2,423 109.4,424.1 115.6,425.2 121.8,426.3 128,427 134.2,427.9 140.4,430.9 146.6,431.5 152.8,433.1 159,434.3 165.2,434.7 171.4,436.3 177.6,438.3 183.8,438.9 190,439.8 196.2,441.2 202.4,442.8 208.6,442.8 214.8,442.1 221,443.9 227.2,444.4 233.4,444.6 239.6,445.5 245.8,447.3 252,448.9 258.2,451.4 264.4,452.5 270.6,454.1 276.8,455.7 283,459.3 289.2,459.7 295.4,460.3 301.6,460.5 307.7,460.5 313.9,462 320.1,464.3 326.3,465.1 332.5,466.3 338.7,467.7 344.9,468.8 351.1,469.6 357.3,468.9 363.5,470.5 369.7,476.2 375.9,480.7 382.1,483 388.3,484.8 394.5,487.5 400.7,490.9 406.9,494.7 413.1,495.4 419.3,494.8 425.5,498 431.7,499.1 437.9,498.4 444.1,496.8 450.3,495.2 456.5,499.1 462.7,504.3 468.9,507.5 475.1,508.8 481.3,510.4 487.5,511.5 493.7,513 499.9,516 506.1,519 512.3,519 518.5,531.2 524.7,532.6 530.9,529.8 537.1,548.6 543.3,567.8" stroke="rgba(0,0,255,0.4)" stroke-width="1.3"/><path d="M53.6 361.2 C54.6 361.5 57.7 362.1 59.8 362.6 C61.9 363 63.9 363.5 66 364 C68.1 364.4 70.1 364.9 72.2 365.3 C74.3 365.8 76.3 366.2 78.4 366.7 C80.5 367.1 82.5 367.6 84.6 368 C86.7 368.5 88.7 368.9 90.8 369.4 C92.9 369.8 94.9 370.3 97 370.7 C99.1 371.2 101.1 371.6 103.2 372.1 C105.3 372.5 107.3 373 109.4 373.4 C111.5 373.9 113.5 374.3 115.6 374.8 C117.7 375.3 119.7 375.7 121.8 376.2 C123.9 376.6 125.9 377.1 128 377.5 C130.1 378 132.1 378.4 134.2 378.9 C136.2 379.3 138.3 379.8 140.4 380.2 C142.4 380.7 144.5 381.1 146.6 381.6 C148.6 382 150.7 382.5 152.8 382.9 C154.8 383.4 156.9 383.8 159 384.2 C161 384.7 163.1 385.1 165.2 385.6 C167.2 386 169.3 386.4 171.4 386.8 C173.4 387.3 175.5 387.7 177.6 388.1 C179.6 388.5 181.7 389 183.8 389.4 C185.8 389.9 187.9 390.3 190 390.8 C192 391.3 194.1 391.8 196.2 392.3 C198.2 392.8 200.3 393.3 202.4 393.9 C204.4 394.4 206.5 395 208.6 395.6 C210.6 396.1 212.7 396.7 214.8 397.3 C216.8 398 218.9 398.6 221 399.2 C223 399.8 225.1 400.5 227.2 401.1 C229.2 401.8 231.3 402.4 233.4 403.1 C235.4 403.8 237.5 404.5 239.6 405.2 C241.6 405.8 243.7 406.5 245.8 407.2 C247.8 407.9 249.9 408.5 252 409.2 C254 409.8 256.1 410.5 258.2 411.1 C260.2 411.7 262.3 412.3 264.4 412.9 C266.4 413.4 268.5 414 270.6 414.6 C272.6 415.2 274.7 415.7 276.8 416.3 C278.8 416.9 280.9 417.5 283 418.1 C285 418.7 287.1 419.3 289.2 419.9 C291.2 420.5 293.3 421.1 295.4 421.8 C297.4 422.4 299.5 423.1 301.6 423.8 C303.6 424.4 305.7 425.1 307.7 425.8 C309.8 426.5 311.9 427.1 313.9 427.8 C316 428.5 318.1 429.2 320.1 429.8 C322.2 430.5 324.3 431.2 326.3 431.9 C328.4 432.5 330.5 433.2 332.5 433.8 C334.6 434.5 336.7 435.1 338.7 435.7 C340.8 436.4 342.9 437 344.9 437.6 C347 438.3 349.1 438.9 351.1 439.6 C353.2 440.3 355.3 440.9 357.3 441.6 C359.4 442.3 361.5 443 363.5 443.8 C365.6 444.5 367.7 445.2 369.7 445.9 C371.8 446.7 373.9 447.4 375.9 448.1 C378 448.9 380.1 449.6 382.1 450.3 C384.2 451.1 386.3 451.8 388.3 452.5 C390.4 453.3 392.5 454 394.5 454.7 C396.6 455.5 398.7 456.3 400.7 457 C402.8 457.8 404.9 458.6 406.9 459.3 C409 460.1 411.1 460.9 413.1 461.6 C415.2 462.4 417.3 463.2 419.3 463.9 C421.4 464.6 423.5 465.3 425.5 466 C427.6 466.6 429.7 467.3 431.7 467.9 C433.8 468.6 435.9 469.2 437.9 469.9 C440 470.5 442.1 471.1 444.1 471.7 C446.2 472.4 448.3 473 450.3 473.7 C452.4 474.3 454.5 475 456.5 475.6 C458.6 476.3 460.7 476.9 462.7 477.6 C464.8 478.2 466.8 478.9 468.9 479.6 C471 480.3 473 481.1 475.1 481.8 C477.2 482.4 479.2 482.4 481.3 483.3 C483.4 484.3 485.4 486.5 487.5 487.5 C489.6 488.5 491.6 488.8 493.7 489.4 C495.8 490 497.8 490.7 499.9 491.3 C502 492 504 492.6 506.1 493.1 C508.2 493.7 510.2 493.9 512.3 494.6 C514.4 495.4 516.4 496.4 518.5 497.6 C520.6 498.9 522.6 500.7 524.7 502.1 C526.8 503.5 528.8 504.6 530.9 505.8 C533 507 535 509.3 537.1 509.3 C539.2 509.2 542.3 506 543.3 505.4" stroke="rgba(255,0,0,0.4)" stroke-width="1"/><path d="M53.6 365.6 C54.6 365.9 57.7 366.6 59.8 367 C61.9 367.5 63.9 368 66 368.4 C68.1 368.9 70.1 369.4 72.2 369.8 C74.3 370.3 76.3 370.8 78.4 371.2 C80.5 371.7 82.5 372.2 84.6 372.6 C86.7 373.1 88.7 373.6 90.8 374 C92.9 374.5 94.9 375 97 375.4 C99.1 375.9 101.1 376.4 103.2 376.8 C105.3 377.3 107.3 377.8 109.4 378.2 C111.5 378.7 113.5 379.2 115.6 379.6 C117.7 380.1 119.7 380.6 121.8 381 C123.9 381.5 125.9 382 128 382.4 C130.1 382.9 132.1 383.4 134.2 383.8 C136.2 384.3 138.3 384.8 140.4 385.2 C142.4 385.7 144.5 386.2 146.6 386.6 C148.6 387.1 150.7 387.6 152.8 388 C154.8 388.5 156.9 388.9 159 389.4 C161 389.8 163.1 390.3 165.2 390.7 C167.2 391.2 169.3 391.6 171.4 392.1 C173.4 392.5 175.5 392.9 177.6 393.4 C179.6 393.8 181.7 394.3 183.8 394.7 C185.8 395.2 187.9 395.7 190 396.1 C192 396.6 194.1 397.1 196.2 397.7 C198.2 398.2 200.3 398.7 202.4 399.3 C204.4 399.9 206.5 400.4 208.6 401 C210.6 401.6 212.7 402.3 214.8 402.9 C216.8 403.5 218.9 404.1 221 404.8 C223 405.4 225.1 406.1 227.2 406.7 C229.2 407.4 231.3 408.1 233.4 408.8 C235.4 409.5 237.5 410.2 239.6 410.9 C241.6 411.6 243.7 412.3 245.8 412.9 C247.8 413.6 249.9 414.3 252 415 C254 415.6 256.1 416.3 258.2 416.9 C260.2 417.5 262.3 418.1 264.4 418.7 C266.4 419.3 268.5 419.9 270.6 420.5 C272.6 421.1 274.7 421.7 276.8 422.3 C278.8 422.9 280.9 423.5 283 424.1 C285 424.7 287.1 425.3 289.2 425.9 C291.2 426.6 293.3 427.2 295.4 427.9 C297.4 428.6 299.5 429.2 301.6 429.9 C303.6 430.6 305.7 431.3 307.7 432 C309.8 432.7 311.9 433.4 313.9 434.1 C316 434.8 318.1 435.5 320.1 436.2 C322.2 436.8 324.3 437.5 326.3 438.2 C328.4 438.9 330.5 439.6 332.5 440.2 C334.6 440.9 336.7 441.6 338.7 442.2 C340.8 442.9 342.9 443.5 344.9 444.2 C347 444.8 349.1 445.5 351.1 446.2 C353.2 446.9 355.3 447.6 357.3 448.3 C359.4 449 361.5 449.7 363.5 450.5 C365.6 451.2 367.7 452 369.7 452.7 C371.8 453.5 373.9 454.3 375.9 455 C378 455.8 380.1 456.5 382.1 457.3 C384.2 458 386.3 458.8 388.3 459.6 C390.4 460.3 392.5 461.1 394.5 461.9 C396.6 462.6 398.7 463.4 400.7 464.2 C402.8 465 404.9 465.8 406.9 466.6 C409 467.4 411.1 468.3 413.1 469.1 C415.2 469.9 417.3 470.7 419.3 471.4 C421.4 472.2 423.5 472.9 425.5 473.6 C427.6 474.3 429.7 475 431.7 475.7 C433.8 476.4 435.9 477 437.9 477.7 C440 478.4 442.1 479 444.1 479.7 C446.2 480.4 448.3 481.1 450.3 481.8 C452.4 482.5 454.5 483.2 456.5 483.9 C458.6 484.6 460.7 485.3 462.7 486 C464.8 486.7 466.8 487.5 468.9 488.2 C471 489 473 489.9 475.1 490.6 C477.2 491.2 479.2 491.3 481.3 492.4 C483.4 493.4 485.4 495.7 487.5 496.9 C489.6 498 491.6 498.4 493.7 499.1 C495.8 499.9 497.8 500.6 499.9 501.3 C502 502.1 504 502.8 506.1 503.6 C508.2 504.3 510.2 504.8 512.3 505.8 C514.4 506.8 516.4 507.9 518.5 509.6 C520.6 511.2 522.6 513.8 524.7 515.5 C526.8 517.3 528.8 518.8 530.9 520 C533 521.2 535 522.1 537.1 523 C539.2 523.9 542.3 524.9 543.3 525.2" stroke="rgba(255,0,0,0.4)" stroke-width="1"/><polyline points="53.6,399.9 59.8,401.9 66,403.3 72.2,403.7 78.4,404.9 84.6,407.6 90.8,410.5 97,411.2 103.2,412.3 109.4,413.5 115.6,414.4 121.8,415.7 128,416.2 134.2,417.3 140.4,420.2 146.6,421.4 152.8,423 159,424.1 165.2,424.1 171.4,425.2 177.6,427 183.8,427.6 190,428.5 196.2,429.9 202.4,431.5 208.6,431 214.8,430.3 221,432.2 227.2,432.6 233.4,432.6 239.6,433.7 245.8,435.3 252,437.1 258.2,439.4 264.4,440.5 270.6,442.1 276.8,443.9 283,447.3 289.2,447.3 295.4,448.4 301.6,448.7 307.7,448 313.9,450.2 320.1,452.7 326.3,453.2 332.5,454.4 338.7,456 344.9,456.9 351.1,456.7 357.3,455 363.5,458 369.7,464.3 375.9,468.8 382.1,471.7 388.3,473.9 394.5,477.3 400.7,481.8 406.9,482.5 413.1,481.8 419.3,480.9 425.5,484 431.7,485.9 437.9,484.6 444.1,482.7 450.3,478.9 456.5,485.2 462.7,488.5 468.9,493 475.1,493.4 481.3,495.2 487.5,495.7 493.7,496.8 499.9,500.2 506.1,501.6 512.3,499.5 518.5,515.6 524.7,515.6 530.9,507.9 537.1,540.3 543.3,540.3" stroke="#0000ff" stroke-width="1.95"/><path d="M53.6 363.4 C54.6 363.7 57.7 364.4 59.8 364.8 C61.9 365.3 63.9 365.7 66 366.2 C68.1 366.7 70.1 367.1 72.2 367.6 C74.3 368 76.3 368.5 78.4 368.9 C80.5 369.4 82.5 369.9 84.6 370.3 C86.7 370.8 88.7 371.2 90.8 371.7 C92.9 372.2 94.9 372.6 97 373.1 C99.1 373.5 101.1 374 103.2 374.5 C105.3 374.9 107.3 375.4 109.4 375.8 C111.5 376.3 113.5 376.8 115.6 377.2 C117.7 377.7 119.7 378.1 121.8 378.6 C123.9 379.1 125.9 379.5 128 380 C130.1 380.4 132.1 380.9 134.2 381.4 C136.2 381.8 138.3 382.3 140.4 382.7 C142.4 383.2 144.5 383.6 146.6 384.1 C148.6 384.6 150.7 385 152.8 385.5 C154.8 385.9 156.9 386.4 159 386.8 C161 387.3 163.1 387.7 165.2 388.1 C167.2 388.6 169.3 389 171.4 389.4 C173.4 389.9 175.5 390.3 177.6 390.8 C179.6 391.2 181.7 391.6 183.8 392.1 C185.8 392.5 187.9 393 190 393.5 C192 394 194.1 394.4 196.2 395 C198.2 395.5 200.3 396 202.4 396.6 C204.4 397.1 206.5 397.7 208.6 398.3 C210.6 398.9 212.7 399.5 214.8 400.1 C216.8 400.7 218.9 401.4 221 402 C223 402.6 225.1 403.3 227.2 403.9 C229.2 404.6 231.3 405.3 233.4 405.9 C235.4 406.6 237.5 407.3 239.6 408 C241.6 408.7 243.7 409.4 245.8 410.1 C247.8 410.8 249.9 411.4 252 412.1 C254 412.7 256.1 413.4 258.2 414 C260.2 414.6 262.3 415.2 264.4 415.8 C266.4 416.4 268.5 417 270.6 417.5 C272.6 418.1 274.7 418.7 276.8 419.3 C278.8 419.9 280.9 420.5 283 421.1 C285 421.7 287.1 422.3 289.2 422.9 C291.2 423.5 293.3 424.2 295.4 424.8 C297.4 425.5 299.5 426.2 301.6 426.8 C303.6 427.5 305.7 428.2 307.7 428.9 C309.8 429.6 311.9 430.3 313.9 430.9 C316 431.6 318.1 432.3 320.1 433 C322.2 433.7 324.3 434.4 326.3 435 C328.4 435.7 330.5 436.4 332.5 437 C334.6 437.7 336.7 438.3 338.7 439 C340.8 439.6 342.9 440.3 344.9 440.9 C347 441.6 349.1 442.2 351.1 442.9 C353.2 443.6 355.3 444.3 357.3 445 C359.4 445.7 361.5 446.4 363.5 447.1 C365.6 447.9 367.7 448.6 369.7 449.3 C371.8 450.1 373.9 450.8 375.9 451.6 C378 452.3 380.1 453.1 382.1 453.8 C384.2 454.6 386.3 455.3 388.3 456 C390.4 456.8 392.5 457.5 394.5 458.3 C396.6 459.1 398.7 459.8 400.7 460.6 C402.8 461.4 404.9 462.2 406.9 463 C409 463.8 411.1 464.6 413.1 465.4 C415.2 466.1 417.3 466.9 419.3 467.6 C421.4 468.4 423.5 469.1 425.5 469.8 C427.6 470.5 429.7 471.2 431.7 471.8 C433.8 472.5 435.9 473.1 437.9 473.8 C440 474.4 442.1 475.1 444.1 475.7 C446.2 476.4 448.3 477 450.3 477.7 C452.4 478.4 454.5 479.1 456.5 479.8 C458.6 480.5 460.7 481.1 462.7 481.8 C464.8 482.5 466.8 483.2 468.9 483.9 C471 484.7 473 485.5 475.1 486.2 C477.2 486.8 479.2 487.2 481.3 487.9 C483.4 488.5 485.4 489.2 487.5 490 C489.6 490.9 491.6 492 493.7 492.9 C495.8 493.7 497.8 494.1 499.9 495 C502 495.9 504 497.4 506.1 498.3 C508.2 499.2 510.2 499.8 512.3 500.5 C514.4 501.2 516.4 501.6 518.5 502.6 C520.6 503.6 522.6 505.1 524.7 506.5 C526.8 507.9 528.8 509.6 530.9 511.3 C533 513 535 515.7 537.1 516.6 C539.2 517.5 542.3 516.9 543.3 516.9" stroke="#ff0000" stroke-width="1.8"/></g>
<rect x="34.2" y="319.2" width="536.2" height="229.6" fill="none" stroke="#a0a0a0" stroke-width="1.5"/>
<line x1="30.2" y1="540.3" x2="34.2" y2="540.3" stroke="#8c8c8c" stroke-width="1"/>
<text transform="translate(26,540.3) rotate(-90)" text-anchor="middle" class="tk" textLength="15.2" lengthAdjust="spacingAndGlyphs">0.0</text>
<line x1="30.2" y1="487" x2="34.2" y2="487" stroke="#8c8c8c" stroke-width="1"/>
<text transform="translate(26,487) rotate(-90)" text-anchor="middle" class="tk" textLength="15.2" lengthAdjust="spacingAndGlyphs">0.1</text>
<line x1="30.2" y1="433.8" x2="34.2" y2="433.8" stroke="#8c8c8c" stroke-width="1"/>
<text transform="translate(26,433.8) rotate(-90)" text-anchor="middle" class="tk" textLength="15.2" lengthAdjust="spacingAndGlyphs">0.2</text>
<line x1="30.2" y1="380.6" x2="34.2" y2="380.6" stroke="#8c8c8c" stroke-width="1"/>
<text transform="translate(26,380.6) rotate(-90)" text-anchor="middle" class="tk" textLength="15.2" lengthAdjust="spacingAndGlyphs">0.3</text>
<line x1="30.2" y1="327.3" x2="34.2" y2="327.3" stroke="#8c8c8c" stroke-width="1"/>
<text transform="translate(26,327.3) rotate(-90)" text-anchor="middle" class="tk" textLength="15.2" lengthAdjust="spacingAndGlyphs">0.4</text>
<line x1="53.6" y1="548.8" x2="53.6" y2="551.8" stroke="#b0b0b0" stroke-width="1"/>
<text x="53.6" y="561.7" text-anchor="middle" class="tk" textLength="21.4" lengthAdjust="spacingAndGlyphs">0.90</text>
<line x1="152.8" y1="548.8" x2="152.8" y2="551.8" stroke="#b0b0b0" stroke-width="1"/>
<text x="152.8" y="561.7" text-anchor="middle" class="tk" textLength="21.4" lengthAdjust="spacingAndGlyphs">0.92</text>
<line x1="252" y1="548.8" x2="252" y2="551.8" stroke="#b0b0b0" stroke-width="1"/>
<text x="252" y="561.7" text-anchor="middle" class="tk" textLength="21.4" lengthAdjust="spacingAndGlyphs">0.94</text>
<line x1="351.1" y1="548.8" x2="351.1" y2="551.8" stroke="#b0b0b0" stroke-width="1"/>
<text x="351.1" y="561.7" text-anchor="middle" class="tk" textLength="21.4" lengthAdjust="spacingAndGlyphs">0.96</text>
<line x1="450.3" y1="548.8" x2="450.3" y2="551.8" stroke="#b0b0b0" stroke-width="1"/>
<text x="450.3" y="561.7" text-anchor="middle" class="tk" textLength="21.4" lengthAdjust="spacingAndGlyphs">0.98</text>
<line x1="549.5" y1="548.8" x2="549.5" y2="551.8" stroke="#b0b0b0" stroke-width="1"/>
<text x="549.5" y="561.7" text-anchor="middle" class="tk" textLength="21.4" lengthAdjust="spacingAndGlyphs">1.00</text>
<text x="302.8" y="575.1" text-anchor="middle" class="xl">1-p</text>
<text x="5.2" y="440.3" class="chi">&#967;</text>
<path d="M6.5 428.2 L9.4 423.2 L12.3 428.2" fill="none" stroke="#000" stroke-width="1.25"/>
<text x="34.6" y="306.2" class="ttl" textLength="70.8" lengthAdjust="spacingAndGlyphs">b) Madrid</text>
<clipPath id="clipc"><rect x="36.6" y="610.3" width="535.9" height="230"/></clipPath>
<g fill="#ffff00" clip-path="url(#clipc)"><rect x="54.6" y="674.2" width="3.4" height="46.1" rx="1.7"/><rect x="60.8" y="674.2" width="3.4" height="47.2" rx="1.7"/><rect x="67" y="675.3" width="3.4" height="47.2" rx="1.7"/><rect x="73.2" y="676.4" width="3.4" height="47.2" rx="1.7"/><rect x="79.4" y="676.4" width="3.4" height="48.3" rx="1.7"/><rect x="85.6" y="678.7" width="3.4" height="47.2" rx="1.7"/><rect x="91.8" y="678.7" width="3.4" height="47.2" rx="1.7"/><rect x="98" y="678.7" width="3.4" height="48.3" rx="1.7"/><rect x="104.2" y="681" width="3.4" height="46.5" rx="1.7"/><rect x="110.4" y="681" width="3.4" height="47.2" rx="1.7"/><rect x="116.6" y="681.6" width="3.4" height="47.7" rx="1.7"/><rect x="122.8" y="683.2" width="3.4" height="46.1" rx="1.7"/><rect x="129" y="683.9" width="3.4" height="46.5" rx="1.7"/><rect x="135.2" y="684.3" width="3.4" height="47.2" rx="1.7"/><rect x="141.4" y="684.3" width="3.4" height="48.3" rx="1.7"/><rect x="147.6" y="685.5" width="3.4" height="47.2" rx="1.7"/><rect x="153.8" y="685.5" width="3.4" height="48.3" rx="1.7"/><rect x="160" y="685.5" width="3.4" height="48.3" rx="1.7"/><rect x="166.2" y="686.6" width="3.4" height="48.3" rx="1.7"/><rect x="172.4" y="687.3" width="3.4" height="48.9" rx="1.7"/><rect x="178.6" y="689.2" width="3.4" height="49.5" rx="1.7"/><rect x="184.8" y="691.4" width="3.4" height="48.3" rx="1.7"/><rect x="191" y="692.6" width="3.4" height="48.3" rx="1.7"/><rect x="197.2" y="692.6" width="3.4" height="49.5" rx="1.7"/><rect x="203.4" y="693.7" width="3.4" height="49.5" rx="1.7"/><rect x="209.6" y="696" width="3.4" height="48.3" rx="1.7"/><rect x="215.8" y="696" width="3.4" height="49.5" rx="1.7"/><rect x="222" y="696" width="3.4" height="49.5" rx="1.7"/><rect x="228.2" y="697.1" width="3.4" height="49.5" rx="1.7"/><rect x="234.4" y="698.2" width="3.4" height="48.3" rx="1.7"/><rect x="240.6" y="698.2" width="3.4" height="48.3" rx="1.7"/><rect x="246.8" y="698.2" width="3.4" height="50.6" rx="1.7"/><rect x="253" y="699.3" width="3.4" height="50.6" rx="1.7"/><rect x="259.2" y="699.3" width="3.4" height="51.7" rx="1.7"/><rect x="265.4" y="700.5" width="3.4" height="50.6" rx="1.7"/><rect x="271.6" y="700.5" width="3.4" height="51.7" rx="1.7"/><rect x="277.8" y="700.5" width="3.4" height="51.7" rx="1.7"/><rect x="284" y="701.6" width="3.4" height="51.7" rx="1.7"/><rect x="290.2" y="701.6" width="3.4" height="52.9" rx="1.7"/><rect x="296.4" y="702.9" width="3.4" height="52.3" rx="1.7"/><rect x="302.6" y="704.2" width="3.4" height="54" rx="1.7"/><rect x="308.7" y="705.3" width="3.4" height="54" rx="1.7"/><rect x="314.9" y="708.7" width="3.4" height="50.6" rx="1.7"/><rect x="321.1" y="708.7" width="3.4" height="51.7" rx="1.7"/><rect x="327.3" y="709.8" width="3.4" height="52.9" rx="1.7"/><rect x="333.5" y="711" width="3.4" height="52.9" rx="1.7"/><rect x="339.7" y="712.1" width="3.4" height="52.9" rx="1.7"/><rect x="345.9" y="712.1" width="3.4" height="54" rx="1.7"/><rect x="352.1" y="713.2" width="3.4" height="52.9" rx="1.7"/><rect x="358.3" y="714.3" width="3.4" height="52.9" rx="1.7"/><rect x="364.5" y="714.3" width="3.4" height="52.9" rx="1.7"/><rect x="370.7" y="715.5" width="3.4" height="52.9" rx="1.7"/><rect x="376.9" y="716.6" width="3.4" height="51.7" rx="1.7"/><rect x="383.1" y="716.6" width="3.4" height="52.9" rx="1.7"/><rect x="389.3" y="717.7" width="3.4" height="52.9" rx="1.7"/><rect x="395.5" y="718.9" width="3.4" height="52.9" rx="1.7"/><rect x="401.7" y="722.7" width="3.4" height="50.2" rx="1.7"/><rect x="407.9" y="722" width="3.4" height="52" rx="1.7"/><rect x="414.1" y="722" width="3.4" height="53.1" rx="1.7"/><rect x="420.3" y="726.1" width="3.4" height="46.9" rx="1.7"/><rect x="426.5" y="726.1" width="3.4" height="49.3" rx="1.7"/><rect x="432.7" y="724" width="3.4" height="58.1" rx="1.7"/><rect x="438.9" y="729" width="3.4" height="56" rx="1.7"/><rect x="445.1" y="729" width="3.4" height="56" rx="1.7"/><rect x="451.3" y="726.8" width="3.4" height="59.2" rx="1.7"/><rect x="457.5" y="732.4" width="3.4" height="56.4" rx="1.7"/><rect x="463.7" y="731.7" width="3.4" height="57.1" rx="1.7"/><rect x="469.9" y="732.4" width="3.4" height="67" rx="1.7"/><rect x="476.1" y="732.4" width="3.4" height="66" rx="1.7"/><rect x="482.3" y="732.9" width="3.4" height="67.4" rx="1.7"/><rect x="488.5" y="732.9" width="3.4" height="71.2" rx="1.7"/><rect x="494.7" y="733.1" width="3.4" height="67" rx="1.7"/><rect x="500.9" y="737.4" width="3.4" height="65.3" rx="1.7"/><rect x="507.1" y="752.1" width="3.4" height="52.8" rx="1.7"/><circle cx="56.3" cy="727.2" r="1.7"/><circle cx="62.5" cy="728.3" r="1.7"/><circle cx="68.7" cy="727.9" r="1.7"/><circle cx="74.9" cy="728.3" r="1.7"/><circle cx="81.1" cy="727.2" r="1.7"/><circle cx="87.3" cy="677.4" r="1.7"/><circle cx="87.3" cy="727.2" r="1.7"/><circle cx="93.5" cy="727.9" r="1.7"/><circle cx="99.7" cy="728.3" r="1.7"/><circle cx="105.9" cy="729.4" r="1.7"/><circle cx="112.1" cy="730.6" r="1.7"/><circle cx="118.3" cy="730.6" r="1.7"/><circle cx="124.5" cy="731.7" r="1.7"/><circle cx="130.7" cy="683.1" r="1.7"/><circle cx="130.7" cy="732.4" r="1.7"/><circle cx="136.9" cy="732.8" r="1.7"/><circle cx="149.3" cy="734" r="1.7"/><circle cx="155.5" cy="735.1" r="1.7"/><circle cx="161.7" cy="736.2" r="1.7"/><circle cx="167.9" cy="736.2" r="1.7"/><circle cx="205.1" cy="692.4" r="1.7"/><circle cx="242.3" cy="749" r="1.7"/><circle cx="267.1" cy="699.2" r="1.7"/><circle cx="267.1" cy="752.3" r="1.7"/><circle cx="273.3" cy="699.2" r="1.7"/><circle cx="279.5" cy="753.5" r="1.7"/><circle cx="291.9" cy="700.8" r="1.7"/><circle cx="298.1" cy="755.9" r="1.7"/><circle cx="316.6" cy="762.8" r="1.7"/><circle cx="322.8" cy="762.8" r="1.7"/><circle cx="329" cy="708.6" r="1.7"/><circle cx="329" cy="764" r="1.7"/><circle cx="360" cy="713.1" r="1.7"/><circle cx="360" cy="768.5" r="1.7"/><circle cx="366.2" cy="710.8" r="1.7"/><circle cx="366.2" cy="768.5" r="1.7"/><circle cx="372.4" cy="709.7" r="1.7"/><circle cx="372.4" cy="769.6" r="1.7"/><circle cx="378.6" cy="708.6" r="1.7"/><circle cx="378.6" cy="770.7" r="1.7"/><circle cx="384.8" cy="707.4" r="1.7"/><circle cx="384.8" cy="771.9" r="1.7"/><circle cx="391" cy="708.6" r="1.7"/><circle cx="391" cy="771.9" r="1.7"/><circle cx="397.2" cy="710.8" r="1.7"/><circle cx="397.2" cy="774.1" r="1.7"/><circle cx="403.4" cy="713.2" r="1.7"/><circle cx="403.4" cy="777.5" r="1.7"/><circle cx="409.6" cy="713.2" r="1.7"/><circle cx="409.6" cy="776.4" r="1.7"/><circle cx="415.8" cy="710.4" r="1.7"/><circle cx="415.8" cy="777.5" r="1.7"/><circle cx="422" cy="719.5" r="1.7"/><circle cx="422" cy="779" r="1.7"/><circle cx="428.2" cy="723.7" r="1.7"/><circle cx="428.2" cy="780.2" r="1.7"/><circle cx="434.4" cy="721.6" r="1.7"/><circle cx="440.6" cy="725.7" r="1.7"/><circle cx="446.8" cy="725.7" r="1.7"/><circle cx="446.8" cy="794.5" r="1.7"/><circle cx="453" cy="797.4" r="1.7"/><circle cx="459.2" cy="726.4" r="1.7"/><circle cx="459.2" cy="801.2" r="1.7"/><circle cx="465.4" cy="800.3" r="1.7"/><circle cx="471.6" cy="730.6" r="1.7"/><circle cx="477.8" cy="729.2" r="1.7"/><circle cx="484" cy="731.7" r="1.7"/><circle cx="484" cy="805" r="1.7"/><circle cx="490.2" cy="807.9" r="1.7"/><circle cx="496.4" cy="729.6" r="1.7"/><circle cx="496.4" cy="812.6" r="1.7"/><circle cx="502.6" cy="730.7" r="1.7"/><circle cx="502.6" cy="816.1" r="1.7"/><circle cx="508.8" cy="726.5" r="1.7"/><circle cx="508.8" cy="817.4" r="1.7"/><circle cx="508.8" cy="733.8" r="1.7"/><circle cx="515" cy="819.6" r="1.7"/><circle cx="515" cy="815.6" r="1.7"/><circle cx="515" cy="811.5" r="1.7"/><circle cx="515" cy="807.4" r="1.7"/><circle cx="515" cy="803.3" r="1.7"/><circle cx="515" cy="799.2" r="1.7"/><circle cx="515" cy="795.1" r="1.7"/><circle cx="515" cy="791.1" r="1.7"/><circle cx="515" cy="787" r="1.7"/><circle cx="515" cy="782.9" r="1.7"/><circle cx="515" cy="778.8" r="1.7"/><circle cx="515" cy="774.7" r="1.7"/><circle cx="515" cy="770.6" r="1.7"/><circle cx="515" cy="766.6" r="1.7"/><circle cx="515" cy="762.5" r="1.7"/><circle cx="515" cy="758.4" r="1.7"/><circle cx="515" cy="754.3" r="1.7"/><circle cx="515" cy="742.1" r="1.7"/><circle cx="515" cy="738" r="1.7"/><circle cx="515" cy="717.6" r="1.7"/><circle cx="521.2" cy="827" r="1.7"/><circle cx="521.2" cy="822.1" r="1.7"/><circle cx="521.2" cy="817.2" r="1.7"/><circle cx="521.2" cy="812.3" r="1.7"/><circle cx="521.2" cy="807.4" r="1.7"/><circle cx="521.2" cy="802.5" r="1.7"/><circle cx="521.2" cy="797.6" r="1.7"/><circle cx="521.2" cy="792.7" r="1.7"/><circle cx="521.2" cy="787.8" r="1.7"/><circle cx="521.2" cy="782.9" r="1.7"/><circle cx="521.2" cy="778" r="1.7"/><circle cx="521.2" cy="773.1" r="1.7"/><circle cx="521.2" cy="768.2" r="1.7"/><circle cx="521.2" cy="763.3" r="1.7"/><circle cx="521.2" cy="753.5" r="1.7"/><circle cx="521.2" cy="748.6" r="1.7"/><circle cx="521.2" cy="719.2" r="1.7"/><circle cx="527.4" cy="831.9" r="1.7"/><circle cx="527.4" cy="825.8" r="1.7"/><circle cx="527.4" cy="819.6" r="1.7"/><circle cx="527.4" cy="813.5" r="1.7"/><circle cx="527.4" cy="807.4" r="1.7"/><circle cx="527.4" cy="801.3" r="1.7"/><circle cx="527.4" cy="795.1" r="1.7"/><circle cx="527.4" cy="789" r="1.7"/><circle cx="527.4" cy="782.9" r="1.7"/><circle cx="527.4" cy="776.8" r="1.7"/><circle cx="527.4" cy="770.6" r="1.7"/><circle cx="527.4" cy="764.5" r="1.7"/><circle cx="527.4" cy="758.4" r="1.7"/><circle cx="527.4" cy="752.3" r="1.7"/><circle cx="527.4" cy="746.1" r="1.7"/><circle cx="527.4" cy="740" r="1.7"/><circle cx="527.4" cy="721.6" r="1.7"/><circle cx="533.6" cy="831.9" r="1.7"/><circle cx="533.6" cy="823.7" r="1.7"/><circle cx="533.6" cy="815.6" r="1.7"/><circle cx="533.6" cy="807.4" r="1.7"/><circle cx="533.6" cy="799.2" r="1.7"/><circle cx="533.6" cy="791.1" r="1.7"/><circle cx="533.6" cy="782.9" r="1.7"/><circle cx="533.6" cy="774.7" r="1.7"/><circle cx="533.6" cy="766.6" r="1.7"/><circle cx="533.6" cy="758.4" r="1.7"/><circle cx="533.6" cy="750.2" r="1.7"/><circle cx="533.6" cy="742.1" r="1.7"/><circle cx="539.8" cy="831.9" r="1.7"/><circle cx="539.8" cy="819.6" r="1.7"/><circle cx="539.8" cy="807.4" r="1.7"/><circle cx="539.8" cy="795.1" r="1.7"/><circle cx="539.8" cy="782.9" r="1.7"/><circle cx="539.8" cy="770.6" r="1.7"/><circle cx="539.8" cy="758.4" r="1.7"/><circle cx="546" cy="831.9" r="1.7"/><circle cx="546" cy="807.4" r="1.7"/><circle cx="546" cy="782.9" r="1.7"/><circle cx="546" cy="758.4" r="1.7"/><circle cx="546" cy="733.9" r="1.7"/></g>
<g fill="none" stroke-linejoin="round" clip-path="url(#clipc)"><polyline points="56.3,686.5 62.5,689.6 68.7,690.8 74.9,691.9 81.1,692.8 87.3,693.6 93.5,693.9 99.7,693.9 105.9,694.1 112.1,694.4 118.3,694.7 124.5,695.1 130.7,695.3 136.9,695.6 143.1,696 149.3,696.3 155.5,696.6 161.7,697.2 167.9,698.2 174.1,698.3 180.3,698.6 186.5,698.9 192.7,699.2 198.9,700 205.1,700.8 211.3,701.6 217.5,702.2 223.7,702.3 229.9,702.4 236.1,702.6 242.3,703.1 248.5,703.7 254.7,704.3 260.9,704.9 267.1,705.9 273.3,706.8 279.5,707.7 285.7,708.4 291.9,708.8 298.1,709 304.2,710.4 310.4,711.3 316.6,712 322.8,711.3 329,709.7 335.2,706.8 341.4,704 347.6,701.3 353.8,702.2 360,702.9 366.2,705.2 372.4,705.2 378.6,706.3 384.8,707.4 391,708.6 397.2,712.6 403.4,710.4 409.6,713.1 415.8,709.7 422,714.5 428.2,715.8 434.4,718.1 440.6,722.6 446.8,727.1 453,727.1 459.2,724.9 465.4,725.3 471.6,726.7 477.8,726 484,730.5 490.2,729.6 496.4,735.4 502.6,742.4 508.8,747.3 515,752 521.2,751.1 527.4,753.2 533.6,742 539.8,715.2 546,736" stroke="rgba(0,0,255,0.4)" stroke-width="1.3"/><polyline points="56.3,709.5 62.5,712 68.7,712.9 74.9,714.1 81.1,714.7 87.3,715.9 93.5,716.5 99.7,716.5 105.9,716.5 112.1,717.5 118.3,718.1 124.5,718.1 130.7,719.3 136.9,719.3 143.1,719.3 149.3,719.7 155.5,719.7 161.7,719.9 167.9,721.1 174.1,722 180.3,722.5 186.5,721.8 192.7,722.5 198.9,722.5 205.1,723 211.3,724.8 217.5,724.8 223.7,724.8 229.9,727.5 236.1,728.6 242.3,729.3 248.5,729.7 254.7,730.9 260.9,729.3 267.1,732 273.3,732.5 279.5,733.8 285.7,735.4 291.9,736.1 298.1,737.6 304.2,739.1 310.4,740.2 316.6,740.9 322.8,740.9 329,740.2 335.2,739.1 341.4,736.8 347.6,733.4 353.8,734.6 360,735.7 366.2,738 372.4,738.4 378.6,740.2 384.8,741.3 391,742.9 397.2,747.5 403.4,745.9 409.6,749.3 415.8,745.9 422,751.5 428.2,755.4 434.4,757.7 440.6,762.2 446.8,765.6 453,766.7 459.2,765.6 465.4,766.7 471.6,769 477.8,770.1 484,774.6 490.2,778.4 496.4,786.2 502.6,794.9 508.8,801.3 515,806.9 521.2,810.9 527.4,815.8 533.6,815.8 539.8,815.8 546,844.7" stroke="rgba(0,0,255,0.4)" stroke-width="1.3"/><path d="M56.3 683.9 C57.3 684 60.4 684.4 62.5 684.7 C64.6 684.9 66.6 685.1 68.7 685.3 C70.8 685.6 72.8 685.8 74.9 686 C77 686.2 79 686.3 81.1 686.5 C83.2 686.7 85.2 686.9 87.3 687 C89.4 687.2 91.4 687.3 93.5 687.5 C95.6 687.6 97.6 687.8 99.7 687.9 C101.8 688.1 103.8 688.2 105.9 688.3 C108 688.5 110 688.6 112.1 688.8 C114.2 688.9 116.2 689.1 118.3 689.3 C120.4 689.4 122.4 689.6 124.5 689.8 C126.6 690 128.6 690.2 130.7 690.4 C132.8 690.5 134.8 690.7 136.9 690.9 C139 691.1 141 691.3 143.1 691.5 C145.1 691.7 147.2 691.9 149.3 692.1 C151.3 692.3 153.4 692.5 155.5 692.7 C157.5 693 159.6 693.2 161.7 693.4 C163.7 693.6 165.8 693.8 167.9 694 C169.9 694.2 172 694.4 174.1 694.5 C176.1 694.7 178.2 694.9 180.3 695.1 C182.3 695.3 184.4 695.5 186.5 695.7 C188.5 695.8 190.6 696 192.7 696.2 C194.7 696.4 196.8 696.6 198.9 696.8 C200.9 697 203 697.3 205.1 697.5 C207.1 697.7 209.2 697.9 211.3 698.1 C213.3 698.4 215.4 698.6 217.5 698.8 C219.5 699 221.6 699.3 223.7 699.5 C225.7 699.7 227.8 699.9 229.9 700.1 C231.9 700.3 234 700.6 236.1 700.8 C238.1 701 240.2 701.2 242.3 701.4 C244.3 701.7 246.4 701.9 248.5 702.1 C250.5 702.4 252.6 702.6 254.7 702.9 C256.7 703.1 258.8 703.4 260.9 703.6 C262.9 703.9 265 704.1 267.1 704.4 C269.1 704.6 271.2 704.9 273.3 705.2 C275.3 705.4 277.4 705.7 279.5 706 C281.5 706.3 283.6 706.6 285.7 706.9 C287.7 707.2 289.8 707.5 291.9 707.8 C293.9 708.1 296 708.4 298.1 708.7 C300.1 709 302.2 709.4 304.2 709.7 C306.3 710 308.4 710.3 310.4 710.6 C312.5 710.9 314.6 711.2 316.6 711.5 C318.7 711.8 320.8 712.1 322.8 712.4 C324.9 712.7 327 713 329 713.3 C331.1 713.6 333.2 713.9 335.2 714.2 C337.3 714.5 339.4 714.8 341.4 715.1 C343.5 715.4 345.6 715.7 347.6 716.1 C349.7 716.4 351.8 716.7 353.8 717 C355.9 717.4 358 717.7 360 718 C362.1 718.3 364.2 718.7 366.2 719 C368.3 719.3 370.4 719.7 372.4 720 C374.5 720.3 376.6 720.6 378.6 720.9 C380.7 721.2 382.8 721.5 384.8 721.8 C386.9 722 389 722.3 391 722.6 C393.1 722.9 395.2 723.1 397.2 723.4 C399.3 723.7 401.4 723.9 403.4 724.2 C405.5 724.5 407.6 724.8 409.6 725.1 C411.7 725.4 413.8 725.7 415.8 726 C417.9 726.3 420 726.7 422 727 C424.1 727.3 426.2 727.6 428.2 727.9 C430.3 728.3 432.4 728.6 434.4 728.9 C436.5 729.2 438.6 729.6 440.6 729.9 C442.7 730.2 444.8 730.5 446.8 730.8 C448.9 731.1 451 731.5 453 731.8 C455.1 732.2 457.2 732.5 459.2 732.9 C461.3 733.2 463.4 733.5 465.4 734 C467.5 734.5 469.6 735 471.6 735.7 C473.7 736.4 475.7 737.2 477.8 738 C479.9 738.8 481.9 740 484 740.5 C486.1 741 488.1 740.8 490.2 741 C492.3 741.2 494.3 741.2 496.4 741.5 C498.5 741.7 500.5 742 502.6 742.6 C504.7 743.2 506.7 744.1 508.8 745 C510.9 746 512.9 746.8 515 748.2 C517.1 749.7 519.1 752.1 521.2 753.9 C523.3 755.6 525.3 756.7 527.4 758.7 C529.5 760.7 531.5 763.4 533.6 765.9 C535.7 768.5 537.7 771.9 539.8 774 C541.9 776 545 777.3 546 778" stroke="rgba(255,0,0,0.4)" stroke-width="1"/><path d="M56.3 688.3 C57.3 688.4 60.4 688.8 62.5 689.1 C64.6 689.3 66.6 689.6 68.7 689.8 C70.8 690.1 72.8 690.3 74.9 690.5 C77 690.7 79 690.9 81.1 691.1 C83.2 691.3 85.2 691.5 87.3 691.7 C89.4 691.8 91.4 692 93.5 692.2 C95.6 692.3 97.6 692.5 99.7 692.6 C101.8 692.8 103.8 692.9 105.9 693.1 C108 693.2 110 693.4 112.1 693.6 C114.2 693.7 116.2 693.9 118.3 694.1 C120.4 694.3 122.4 694.5 124.5 694.7 C126.6 694.9 128.6 695.1 130.7 695.3 C132.8 695.5 134.8 695.7 136.9 695.9 C139 696.1 141 696.3 143.1 696.5 C145.1 696.8 147.2 697 149.3 697.2 C151.3 697.4 153.4 697.6 155.5 697.8 C157.5 698.1 159.6 698.3 161.7 698.5 C163.7 698.7 165.8 698.9 167.9 699.1 C169.9 699.4 172 699.6 174.1 699.8 C176.1 700 178.2 700.2 180.3 700.4 C182.3 700.6 184.4 700.8 186.5 701 C188.5 701.2 190.6 701.4 192.7 701.6 C194.7 701.8 196.8 702 198.9 702.2 C200.9 702.5 203 702.7 205.1 702.9 C207.1 703.1 209.2 703.4 211.3 703.6 C213.3 703.9 215.4 704.1 217.5 704.3 C219.5 704.6 221.6 704.8 223.7 705 C225.7 705.3 227.8 705.5 229.9 705.7 C231.9 706 234 706.2 236.1 706.4 C238.1 706.7 240.2 706.9 242.3 707.1 C244.3 707.4 246.4 707.6 248.5 707.9 C250.5 708.1 252.6 708.4 254.7 708.7 C256.7 708.9 258.8 709.2 260.9 709.4 C262.9 709.7 265 710 267.1 710.2 C269.1 710.5 271.2 710.8 273.3 711.1 C275.3 711.4 277.4 711.7 279.5 712 C281.5 712.3 283.6 712.6 285.7 712.9 C287.7 713.2 289.8 713.5 291.9 713.8 C293.9 714.2 296 714.5 298.1 714.8 C300.1 715.2 302.2 715.5 304.2 715.8 C306.3 716.2 308.4 716.5 310.4 716.8 C312.5 717.1 314.6 717.5 316.6 717.8 C318.7 718.1 320.8 718.4 322.8 718.7 C324.9 719.1 327 719.4 329 719.7 C331.1 720 333.2 720.3 335.2 720.6 C337.3 721 339.4 721.3 341.4 721.6 C343.5 721.9 345.6 722.3 347.6 722.6 C349.7 722.9 351.8 723.3 353.8 723.6 C355.9 724 358 724.3 360 724.7 C362.1 725 364.2 725.4 366.2 725.7 C368.3 726.1 370.4 726.4 372.4 726.8 C374.5 727.1 376.6 727.4 378.6 727.8 C380.7 728.1 382.8 728.4 384.8 728.7 C386.9 729 389 729.3 391 729.6 C393.1 729.9 395.2 730.2 397.2 730.5 C399.3 730.8 401.4 731.1 403.4 731.4 C405.5 731.8 407.6 732.1 409.6 732.4 C411.7 732.7 413.8 733.1 415.8 733.4 C417.9 733.8 420 734.1 422 734.5 C424.1 734.9 426.2 735.2 428.2 735.6 C430.3 736 432.4 736.3 434.4 736.7 C436.5 737 438.6 737.4 440.6 737.7 C442.7 738.1 444.8 738.4 446.8 738.8 C448.9 739.2 451 739.5 453 739.9 C455.1 740.3 457.2 740.7 459.2 741.1 C461.3 741.5 463.4 741.9 465.4 742.4 C467.5 743 469.6 743.6 471.6 744.3 C473.7 745.1 475.7 745.8 477.8 746.8 C479.9 747.9 481.9 749.9 484 750.6 C486.1 751.4 488.1 751.2 490.2 751.4 C492.3 751.7 494.3 751.8 496.4 752.3 C498.5 752.7 500.5 753.2 502.6 753.9 C504.7 754.5 506.7 755.2 508.8 756.3 C510.9 757.3 512.9 758.7 515 760.3 C517.1 761.9 519.1 764 521.2 765.9 C523.3 767.8 525.3 769.4 527.4 771.5 C529.5 773.7 531.5 775.7 533.6 778.8 C535.7 781.9 537.7 786.1 539.8 790 C541.9 793.9 545 800.1 546 802.1" stroke="rgba(255,0,0,0.4)" stroke-width="1"/><polyline points="56.3,698.5 62.5,701.2 68.7,702.3 74.9,703.4 81.1,704.1 87.3,705.2 93.5,705.7 99.7,706.1 105.9,705.7 112.1,706.8 118.3,707.3 124.5,708 130.7,708.4 136.9,708 143.1,708 149.3,708.4 155.5,708.6 161.7,709.1 167.9,709.8 174.1,710.7 180.3,711.7 186.5,710.5 192.7,711.7 198.9,710.5 205.1,711.7 211.3,712.8 217.5,712.8 223.7,712.3 229.9,715 236.1,716.2 242.3,716.6 248.5,717.3 254.7,718 260.9,716.6 267.1,718.9 273.3,719.6 279.5,720.7 285.7,722.5 291.9,723 298.1,724.8 304.2,726.2 310.4,726.7 316.6,727.1 322.8,727.1 329,726.7 335.2,725.5 341.4,723.3 347.6,718.7 353.8,719.4 360,719.9 366.2,722.1 372.4,723.3 378.6,724.4 384.8,726.7 391,725.5 397.2,731.2 403.4,728.9 409.6,732.3 415.8,728.9 422,734 428.2,737.3 434.4,740.7 440.6,745.2 446.8,748.6 453,748.6 459.2,747.5 465.4,748.6 471.6,750.9 477.8,751.5 484,757.7 490.2,758.1 496.4,765.9 502.6,773.5 508.8,779.2 515,786.8 521.2,787.8 527.4,794.9 533.6,790.8 539.8,782.8 546,831.8" stroke="#0000ff" stroke-width="1.95"/><path d="M56.3 686.1 C57.3 686.2 60.4 686.6 62.5 686.9 C64.6 687.1 66.6 687.4 68.7 687.6 C70.8 687.8 72.8 688 74.9 688.2 C77 688.4 79 688.6 81.1 688.8 C83.2 689 85.2 689.2 87.3 689.3 C89.4 689.5 91.4 689.7 93.5 689.8 C95.6 690 97.6 690.1 99.7 690.3 C101.8 690.4 103.8 690.6 105.9 690.7 C108 690.9 110 691 112.1 691.2 C114.2 691.3 116.2 691.5 118.3 691.7 C120.4 691.9 122.4 692 124.5 692.2 C126.6 692.4 128.6 692.6 130.7 692.8 C132.8 693 134.8 693.2 136.9 693.4 C139 693.6 141 693.8 143.1 694 C145.1 694.2 147.2 694.5 149.3 694.7 C151.3 694.9 153.4 695.1 155.5 695.3 C157.5 695.5 159.6 695.7 161.7 695.9 C163.7 696.1 165.8 696.3 167.9 696.6 C169.9 696.8 172 697 174.1 697.2 C176.1 697.3 178.2 697.5 180.3 697.7 C182.3 697.9 184.4 698.1 186.5 698.3 C188.5 698.5 190.6 698.7 192.7 698.9 C194.7 699.1 196.8 699.3 198.9 699.5 C200.9 699.7 203 700 205.1 700.2 C207.1 700.4 209.2 700.7 211.3 700.9 C213.3 701.1 215.4 701.3 217.5 701.6 C219.5 701.8 221.6 702 223.7 702.3 C225.7 702.5 227.8 702.7 229.9 702.9 C231.9 703.2 234 703.4 236.1 703.6 C238.1 703.8 240.2 704.1 242.3 704.3 C244.3 704.5 246.4 704.8 248.5 705 C250.5 705.3 252.6 705.5 254.7 705.8 C256.7 706 258.8 706.3 260.9 706.5 C262.9 706.8 265 707 267.1 707.3 C269.1 707.6 271.2 707.8 273.3 708.1 C275.3 708.4 277.4 708.7 279.5 709 C281.5 709.3 283.6 709.6 285.7 709.9 C287.7 710.2 289.8 710.5 291.9 710.8 C293.9 711.1 296 711.5 298.1 711.8 C300.1 712.1 302.2 712.4 304.2 712.7 C306.3 713.1 308.4 713.4 310.4 713.7 C312.5 714 314.6 714.3 316.6 714.6 C318.7 715 320.8 715.3 322.8 715.6 C324.9 715.9 327 716.2 329 716.5 C331.1 716.8 333.2 717.1 335.2 717.4 C337.3 717.7 339.4 718 341.4 718.4 C343.5 718.7 345.6 719 347.6 719.3 C349.7 719.7 351.8 720 353.8 720.3 C355.9 720.7 358 721 360 721.3 C362.1 721.7 364.2 722 366.2 722.4 C368.3 722.7 370.4 723 372.4 723.4 C374.5 723.7 376.6 724 378.6 724.3 C380.7 724.6 382.8 724.9 384.8 725.2 C386.9 725.5 389 725.8 391 726.1 C393.1 726.4 395.2 726.7 397.2 727 C399.3 727.2 401.4 727.5 403.4 727.8 C405.5 728.1 407.6 728.4 409.6 728.8 C411.7 729.1 413.8 729.4 415.8 729.7 C417.9 730.1 420 730.4 422 730.7 C424.1 731.1 426.2 731.4 428.2 731.8 C430.3 732.1 432.4 732.5 434.4 732.8 C436.5 733.1 438.6 733.5 440.6 733.8 C442.7 734.1 444.8 734.5 446.8 734.8 C448.9 735.1 451 735.5 453 735.9 C455.1 736.2 457.2 736.6 459.2 737 C461.3 737.4 463.4 737.7 465.4 738.2 C467.5 738.7 469.6 739.3 471.6 740 C473.7 740.7 475.7 741.7 477.8 742.4 C479.9 743.2 481.9 743.7 484 744.4 C486.1 745.1 488.1 746.1 490.2 746.5 C492.3 747 494.3 747 496.4 747.2 C498.5 747.3 500.5 747.1 502.6 747.6 C504.7 748.1 506.7 749.1 508.8 750.1 C510.9 751 512.9 752 515 753.5 C517.1 755 519.1 757.2 521.2 759 C523.3 760.7 525.3 761.9 527.4 764 C529.5 766.1 531.5 768.7 533.6 771.5 C535.7 774.4 537.7 777.8 539.8 781.2 C541.9 784.5 545 789.9 546 791.6" stroke="#ff0000" stroke-width="1.8"/></g>
<rect x="36.6" y="610.3" width="535.9" height="230" fill="none" stroke="#a0a0a0" stroke-width="1.5"/>
<line x1="32.6" y1="831.9" x2="36.6" y2="831.9" stroke="#8c8c8c" stroke-width="1"/>
<text transform="translate(28.4,831.9) rotate(-90)" text-anchor="middle" class="tk" textLength="15.2" lengthAdjust="spacingAndGlyphs">0.0</text>
<line x1="32.6" y1="778.7" x2="36.6" y2="778.7" stroke="#8c8c8c" stroke-width="1"/>
<text transform="translate(28.4,778.7) rotate(-90)" text-anchor="middle" class="tk" textLength="15.2" lengthAdjust="spacingAndGlyphs">0.1</text>
<line x1="32.6" y1="725.5" x2="36.6" y2="725.5" stroke="#8c8c8c" stroke-width="1"/>
<text transform="translate(28.4,725.5) rotate(-90)" text-anchor="middle" class="tk" textLength="15.2" lengthAdjust="spacingAndGlyphs">0.2</text>
<line x1="32.6" y1="672.2" x2="36.6" y2="672.2" stroke="#8c8c8c" stroke-width="1"/>
<text transform="translate(28.4,672.2) rotate(-90)" text-anchor="middle" class="tk" textLength="15.2" lengthAdjust="spacingAndGlyphs">0.3</text>
<line x1="32.6" y1="619" x2="36.6" y2="619" stroke="#8c8c8c" stroke-width="1"/>
<text transform="translate(28.4,619) rotate(-90)" text-anchor="middle" class="tk" textLength="15.2" lengthAdjust="spacingAndGlyphs">0.4</text>
<line x1="56.3" y1="840.3" x2="56.3" y2="843.3" stroke="#b0b0b0" stroke-width="1"/>
<text x="56.3" y="853.2" text-anchor="middle" class="tk" textLength="21.4" lengthAdjust="spacingAndGlyphs">0.90</text>
<line x1="155.5" y1="840.3" x2="155.5" y2="843.3" stroke="#b0b0b0" stroke-width="1"/>
<text x="155.5" y="853.2" text-anchor="middle" class="tk" textLength="21.4" lengthAdjust="spacingAndGlyphs">0.92</text>
<line x1="254.7" y1="840.3" x2="254.7" y2="843.3" stroke="#b0b0b0" stroke-width="1"/>
<text x="254.7" y="853.2" text-anchor="middle" class="tk" textLength="21.4" lengthAdjust="spacingAndGlyphs">0.94</text>
<line x1="353.8" y1="840.3" x2="353.8" y2="843.3" stroke="#b0b0b0" stroke-width="1"/>
<text x="353.8" y="853.2" text-anchor="middle" class="tk" textLength="21.4" lengthAdjust="spacingAndGlyphs">0.96</text>
<line x1="453" y1="840.3" x2="453" y2="843.3" stroke="#b0b0b0" stroke-width="1"/>
<text x="453" y="853.2" text-anchor="middle" class="tk" textLength="21.4" lengthAdjust="spacingAndGlyphs">0.98</text>
<line x1="552.2" y1="840.3" x2="552.2" y2="843.3" stroke="#b0b0b0" stroke-width="1"/>
<text x="552.2" y="853.2" text-anchor="middle" class="tk" textLength="21.4" lengthAdjust="spacingAndGlyphs">1.00</text>
<text x="305.1" y="866.6" text-anchor="middle" class="xl">1-p</text>
<text x="3.8" y="730.3" class="chi">&#967;</text>
<path d="M5.1 718.9 L7.8 713.6 L10.4 718.9" fill="none" stroke="#000" stroke-width="1.25"/>
<text x="33.8" y="598.1" class="ttl" textLength="94" lengthAdjust="spacingAndGlyphs">c) Stockholm</text>
<line x1="374" y1="335.0" x2="381.6" y2="335.0" stroke="#0000ff" stroke-width="1.8"/>
<text x="384.5" y="339.9" class="lg" textLength="27.0" lengthAdjust="spacingAndGlyphs">ERA5</text>
<line x1="374" y1="351.5" x2="381.6" y2="351.5" stroke="rgba(0,0,255,0.45)" stroke-width="1.4"/>
<text x="384.5" y="355.6" class="lg" textLength="164.6" lengthAdjust="spacingAndGlyphs">ERA5 95% confidence intervals</text>
<line x1="374" y1="366.7" x2="381.6" y2="366.7" stroke="#ff0000" stroke-width="1.8"/>
<text x="384.5" y="371.1" class="lg" textLength="43.1" lengthAdjust="spacingAndGlyphs">GloSea5</text>
<line x1="374" y1="382.6" x2="381.6" y2="382.6" stroke="rgba(255,0,0,0.45)" stroke-width="1.4"/>
<text x="384.5" y="386.9" class="lg" textLength="180.7" lengthAdjust="spacingAndGlyphs">GloSea5 95% confidence intervals</text>
<circle cx="378.1" cy="399.6" r="1.3" fill="#ffff00"/>
<text x="384.5" y="402.4" class="lg" textLength="125.0" lengthAdjust="spacingAndGlyphs">GloSea5 100 timeseries</text>
</svg></body></html>
